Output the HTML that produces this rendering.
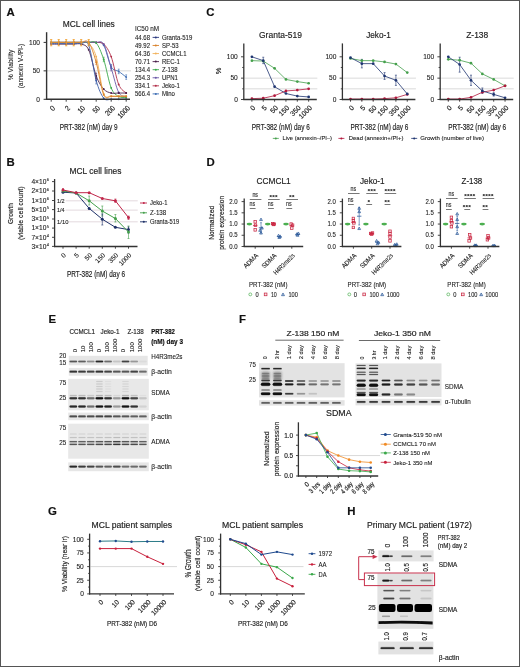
<!DOCTYPE html>
<html><head><meta charset="utf-8"><style>
html,body{margin:0;padding:0;background:#fff;}
svg{display:block;will-change:transform;}
text{font-family:"Liberation Sans", sans-serif;fill:#222;stroke:#222;stroke-width:0.16px;} text.sm{stroke-width:0.1px;}
</style></head><body>
<svg width="520" height="667" viewBox="0 0 520 667">
<defs><filter id="bl" x="-20%" y="-100%" width="140%" height="300%"><feGaussianBlur stdDeviation="0.45"/></filter><filter id="bl2" x="-30%" y="-30%" width="160%" height="160%"><feGaussianBlur stdDeviation="0.9"/></filter></defs>
<rect x="0" y="0" width="520" height="667" fill="#fff"/>
<text x="6.40" y="16.00" font-size="11.4" font-weight="bold" style="fill:#111;stroke:#111">A</text>
<text x="206.20" y="16.10" font-size="11.4" font-weight="bold" style="fill:#111;stroke:#111">C</text>
<text x="6.50" y="166.30" font-size="11.4" font-weight="bold" style="fill:#111;stroke:#111">B</text>
<text x="206.60" y="166.10" font-size="11.4" font-weight="bold" style="fill:#111;stroke:#111">D</text>
<text x="48.40" y="322.50" font-size="11.4" font-weight="bold" style="fill:#111;stroke:#111">E</text>
<text x="239.00" y="322.80" font-size="11.4" font-weight="bold" style="fill:#111;stroke:#111">F</text>
<text x="47.90" y="514.70" font-size="11.4" font-weight="bold" style="fill:#111;stroke:#111">G</text>
<text x="347.20" y="515.00" font-size="11.4" font-weight="bold" style="fill:#111;stroke:#111">H</text>
<text x="88.80" y="26.80" font-size="8.6" text-anchor="middle" textLength="52.00" lengthAdjust="spacingAndGlyphs">MCL cell lines</text>
<line x1="46.60" y1="70.85" x2="131.00" y2="70.85" stroke="#c8c8c8" stroke-width="0.7"/>
<path d="M51.20,42.40 C52.45,42.40 56.20,42.40 58.70,42.40 C61.20,42.40 63.70,42.40 66.20,42.40 C68.70,42.40 71.20,42.40 73.70,42.40 C76.20,42.40 78.70,42.40 81.20,42.40 C83.70,42.40 86.20,42.40 88.70,42.40 C91.20,42.40 93.70,41.93 96.20,42.40 C98.70,42.87 101.20,41.17 103.70,45.25 C106.20,49.32 108.70,62.50 111.20,66.87 C113.70,71.23 116.20,69.71 118.70,71.42 C121.20,73.13 124.95,76.16 126.20,77.11" fill="none" stroke="#3f6fb5" stroke-width="0.9"/>
<circle cx="51.20" cy="42.40" r="0.95" fill="#3f6fb5"/>
<circle cx="58.70" cy="42.40" r="0.95" fill="#3f6fb5"/>
<circle cx="66.20" cy="42.40" r="0.95" fill="#3f6fb5"/>
<circle cx="73.70" cy="42.40" r="0.95" fill="#3f6fb5"/>
<circle cx="81.20" cy="42.40" r="0.95" fill="#3f6fb5"/>
<circle cx="88.70" cy="42.40" r="0.95" fill="#3f6fb5"/>
<circle cx="96.20" cy="42.40" r="0.95" fill="#3f6fb5"/>
<circle cx="103.70" cy="45.25" r="0.95" fill="#3f6fb5"/>
<circle cx="111.20" cy="66.87" r="0.95" fill="#3f6fb5"/>
<circle cx="118.70" cy="71.42" r="0.95" fill="#3f6fb5"/>
<circle cx="126.20" cy="77.11" r="0.95" fill="#3f6fb5"/>
<path d="M51.20,42.40 C52.45,42.40 56.20,42.40 58.70,42.40 C61.20,42.40 63.70,42.40 66.20,42.40 C68.70,42.40 71.20,42.40 73.70,42.40 C76.20,42.40 78.70,42.40 81.20,42.40 C83.70,42.40 86.20,42.40 88.70,42.40 C91.20,42.40 93.70,42.12 96.20,42.40 C98.70,42.68 101.20,41.74 103.70,44.11 C106.20,46.48 108.70,49.89 111.20,56.62 C113.70,63.36 116.20,78.44 118.70,84.51 C121.20,90.58 124.95,91.62 126.20,93.04" fill="none" stroke="#b2304a" stroke-width="0.9"/>
<circle cx="51.20" cy="42.40" r="0.95" fill="#b2304a"/>
<circle cx="58.70" cy="42.40" r="0.95" fill="#b2304a"/>
<circle cx="66.20" cy="42.40" r="0.95" fill="#b2304a"/>
<circle cx="73.70" cy="42.40" r="0.95" fill="#b2304a"/>
<circle cx="81.20" cy="42.40" r="0.95" fill="#b2304a"/>
<circle cx="88.70" cy="42.40" r="0.95" fill="#b2304a"/>
<circle cx="96.20" cy="42.40" r="0.95" fill="#b2304a"/>
<circle cx="103.70" cy="44.11" r="0.95" fill="#b2304a"/>
<circle cx="111.20" cy="56.62" r="0.95" fill="#b2304a"/>
<circle cx="118.70" cy="84.51" r="0.95" fill="#b2304a"/>
<circle cx="126.20" cy="93.04" r="0.95" fill="#b2304a"/>
<path d="M51.20,42.40 C52.45,42.40 56.20,42.40 58.70,42.40 C61.20,42.40 63.70,42.40 66.20,42.40 C68.70,42.40 71.20,42.40 73.70,42.40 C76.20,42.40 78.70,42.40 81.20,42.40 C83.70,42.40 86.20,42.40 88.70,42.40 C91.20,42.40 93.70,42.12 96.20,42.40 C98.70,42.68 101.20,39.84 103.70,44.11 C106.20,48.37 108.70,59.94 111.20,68.00 C113.70,76.07 116.20,87.73 118.70,92.47 C121.20,97.21 124.95,95.79 126.20,96.45" fill="none" stroke="#6b5aa8" stroke-width="0.9"/>
<circle cx="51.20" cy="42.40" r="0.95" fill="#6b5aa8"/>
<circle cx="58.70" cy="42.40" r="0.95" fill="#6b5aa8"/>
<circle cx="66.20" cy="42.40" r="0.95" fill="#6b5aa8"/>
<circle cx="73.70" cy="42.40" r="0.95" fill="#6b5aa8"/>
<circle cx="81.20" cy="42.40" r="0.95" fill="#6b5aa8"/>
<circle cx="88.70" cy="42.40" r="0.95" fill="#6b5aa8"/>
<circle cx="96.20" cy="42.40" r="0.95" fill="#6b5aa8"/>
<circle cx="103.70" cy="44.11" r="0.95" fill="#6b5aa8"/>
<circle cx="111.20" cy="68.00" r="0.95" fill="#6b5aa8"/>
<circle cx="118.70" cy="92.47" r="0.95" fill="#6b5aa8"/>
<circle cx="126.20" cy="96.45" r="0.95" fill="#6b5aa8"/>
<path d="M51.20,42.40 C52.45,42.40 56.20,42.40 58.70,42.40 C61.20,42.40 63.70,42.40 66.20,42.40 C68.70,42.40 71.20,42.40 73.70,42.40 C76.20,42.40 78.70,42.40 81.20,42.40 C83.70,42.40 86.20,42.31 88.70,42.40 C91.20,42.49 93.70,40.12 96.20,42.97 C98.70,45.81 101.20,51.98 103.70,59.47 C106.20,66.96 108.70,81.76 111.20,87.92 C113.70,94.08 116.20,94.84 118.70,96.45 C121.20,98.07 124.95,97.40 126.20,97.59" fill="none" stroke="#3aa84a" stroke-width="0.9"/>
<circle cx="51.20" cy="42.40" r="0.95" fill="#3aa84a"/>
<circle cx="58.70" cy="42.40" r="0.95" fill="#3aa84a"/>
<circle cx="66.20" cy="42.40" r="0.95" fill="#3aa84a"/>
<circle cx="73.70" cy="42.40" r="0.95" fill="#3aa84a"/>
<circle cx="81.20" cy="42.40" r="0.95" fill="#3aa84a"/>
<circle cx="88.70" cy="42.40" r="0.95" fill="#3aa84a"/>
<circle cx="96.20" cy="42.97" r="0.95" fill="#3aa84a"/>
<circle cx="103.70" cy="59.47" r="0.95" fill="#3aa84a"/>
<circle cx="111.20" cy="87.92" r="0.95" fill="#3aa84a"/>
<circle cx="118.70" cy="96.45" r="0.95" fill="#3aa84a"/>
<circle cx="126.20" cy="97.59" r="0.95" fill="#3aa84a"/>
<path d="M51.20,44.11 C52.45,44.11 56.20,44.11 58.70,44.11 C61.20,44.11 63.70,44.11 66.20,44.11 C68.70,44.11 71.20,44.11 73.70,44.11 C76.20,44.11 78.70,43.16 81.20,44.11 C83.70,45.06 86.20,44.49 88.70,49.80 C91.20,55.11 93.70,69.43 96.20,75.97 C98.70,82.51 101.20,86.21 103.70,89.06 C106.20,91.90 108.70,92.38 111.20,93.04 C113.70,93.70 116.20,93.04 118.70,93.04 C121.20,93.04 124.95,93.04 126.20,93.04" fill="none" stroke="#4a1f4a" stroke-width="0.9"/>
<circle cx="51.20" cy="44.11" r="0.95" fill="#4a1f4a"/>
<circle cx="58.70" cy="44.11" r="0.95" fill="#4a1f4a"/>
<circle cx="66.20" cy="44.11" r="0.95" fill="#4a1f4a"/>
<circle cx="73.70" cy="44.11" r="0.95" fill="#4a1f4a"/>
<circle cx="81.20" cy="44.11" r="0.95" fill="#4a1f4a"/>
<circle cx="88.70" cy="49.80" r="0.95" fill="#4a1f4a"/>
<circle cx="96.20" cy="75.97" r="0.95" fill="#4a1f4a"/>
<circle cx="103.70" cy="89.06" r="0.95" fill="#4a1f4a"/>
<circle cx="111.20" cy="93.04" r="0.95" fill="#4a1f4a"/>
<circle cx="118.70" cy="93.04" r="0.95" fill="#4a1f4a"/>
<circle cx="126.20" cy="93.04" r="0.95" fill="#4a1f4a"/>
<path d="M51.20,42.40 C52.45,42.40 56.20,42.40 58.70,42.40 C61.20,42.40 63.70,42.40 66.20,42.40 C68.70,42.40 71.20,42.40 73.70,42.40 C76.20,42.40 78.70,42.21 81.20,42.40 C83.70,42.59 86.20,41.17 88.70,43.54 C91.20,45.91 93.70,48.28 96.20,56.62 C98.70,64.97 101.20,87.07 103.70,93.61 C106.20,100.15 108.70,95.51 111.20,95.89 C113.70,96.27 116.20,95.89 118.70,95.89 C121.20,95.89 124.95,95.89 126.20,95.89" fill="none" stroke="#f2b25c" stroke-width="0.9"/>
<circle cx="51.20" cy="42.40" r="0.95" fill="#f2b25c"/>
<circle cx="58.70" cy="42.40" r="0.95" fill="#f2b25c"/>
<circle cx="66.20" cy="42.40" r="0.95" fill="#f2b25c"/>
<circle cx="73.70" cy="42.40" r="0.95" fill="#f2b25c"/>
<circle cx="81.20" cy="42.40" r="0.95" fill="#f2b25c"/>
<circle cx="88.70" cy="43.54" r="0.95" fill="#f2b25c"/>
<circle cx="96.20" cy="56.62" r="0.95" fill="#f2b25c"/>
<circle cx="103.70" cy="93.61" r="0.95" fill="#f2b25c"/>
<circle cx="111.20" cy="95.89" r="0.95" fill="#f2b25c"/>
<circle cx="118.70" cy="95.89" r="0.95" fill="#f2b25c"/>
<circle cx="126.20" cy="95.89" r="0.95" fill="#f2b25c"/>
<path d="M51.20,42.40 C52.45,42.40 56.20,42.40 58.70,42.40 C61.20,42.40 63.70,42.40 66.20,42.40 C68.70,42.40 71.20,42.40 73.70,42.40 C76.20,42.40 78.70,42.40 81.20,42.40 C83.70,42.40 86.20,39.08 88.70,42.40 C91.20,45.72 93.70,53.59 96.20,62.31 C98.70,71.04 101.20,89.06 103.70,94.75 C106.20,100.44 108.70,96.17 111.20,96.45 C113.70,96.74 116.20,96.45 118.70,96.45 C121.20,96.45 124.95,96.45 126.20,96.45" fill="none" stroke="#d9822b" stroke-width="0.9"/>
<circle cx="51.20" cy="42.40" r="0.95" fill="#d9822b"/>
<circle cx="58.70" cy="42.40" r="0.95" fill="#d9822b"/>
<circle cx="66.20" cy="42.40" r="0.95" fill="#d9822b"/>
<circle cx="73.70" cy="42.40" r="0.95" fill="#d9822b"/>
<circle cx="81.20" cy="42.40" r="0.95" fill="#d9822b"/>
<circle cx="88.70" cy="42.40" r="0.95" fill="#d9822b"/>
<circle cx="96.20" cy="62.31" r="0.95" fill="#d9822b"/>
<circle cx="103.70" cy="94.75" r="0.95" fill="#d9822b"/>
<circle cx="111.20" cy="96.45" r="0.95" fill="#d9822b"/>
<circle cx="118.70" cy="96.45" r="0.95" fill="#d9822b"/>
<circle cx="126.20" cy="96.45" r="0.95" fill="#d9822b"/>
<path d="M51.20,43.54 C52.45,43.54 56.20,43.54 58.70,43.54 C61.20,43.54 63.70,43.54 66.20,43.54 C68.70,43.54 71.20,43.54 73.70,43.54 C76.20,43.54 78.70,43.25 81.20,43.54 C83.70,43.82 86.20,39.08 88.70,45.25 C91.20,51.41 93.70,71.70 96.20,80.52 C98.70,89.34 101.20,95.03 103.70,98.16 C106.20,101.29 108.70,99.11 111.20,99.30 C113.70,99.49 116.20,99.30 118.70,99.30 C121.20,99.30 124.95,99.30 126.20,99.30" fill="none" stroke="#3d5fa8" stroke-width="0.9"/>
<circle cx="51.20" cy="43.54" r="0.95" fill="#3d5fa8"/>
<circle cx="58.70" cy="43.54" r="0.95" fill="#3d5fa8"/>
<circle cx="66.20" cy="43.54" r="0.95" fill="#3d5fa8"/>
<circle cx="73.70" cy="43.54" r="0.95" fill="#3d5fa8"/>
<circle cx="81.20" cy="43.54" r="0.95" fill="#3d5fa8"/>
<circle cx="88.70" cy="45.25" r="0.95" fill="#3d5fa8"/>
<circle cx="96.20" cy="80.52" r="0.95" fill="#3d5fa8"/>
<circle cx="103.70" cy="98.16" r="0.95" fill="#3d5fa8"/>
<circle cx="111.20" cy="99.30" r="0.95" fill="#3d5fa8"/>
<circle cx="118.70" cy="99.30" r="0.95" fill="#3d5fa8"/>
<circle cx="126.20" cy="99.30" r="0.95" fill="#3d5fa8"/>
<line x1="96.20" y1="77.11" x2="96.20" y2="83.94" stroke="#3d5fa8" stroke-width="0.6"/>
<line x1="95.30" y1="77.11" x2="97.10" y2="77.11" stroke="#3d5fa8" stroke-width="0.6"/>
<line x1="95.30" y1="83.94" x2="97.10" y2="83.94" stroke="#3d5fa8" stroke-width="0.6"/>
<line x1="96.20" y1="73.13" x2="96.20" y2="78.82" stroke="#4a1f4a" stroke-width="0.6"/>
<line x1="95.30" y1="73.13" x2="97.10" y2="73.13" stroke="#4a1f4a" stroke-width="0.6"/>
<line x1="95.30" y1="78.82" x2="97.10" y2="78.82" stroke="#4a1f4a" stroke-width="0.6"/>
<line x1="111.20" y1="64.59" x2="111.20" y2="69.14" stroke="#3f6fb5" stroke-width="0.6"/>
<line x1="110.30" y1="64.59" x2="112.10" y2="64.59" stroke="#3f6fb5" stroke-width="0.6"/>
<line x1="110.30" y1="69.14" x2="112.10" y2="69.14" stroke="#3f6fb5" stroke-width="0.6"/>
<line x1="118.70" y1="69.14" x2="118.70" y2="73.69" stroke="#3f6fb5" stroke-width="0.6"/>
<line x1="117.80" y1="69.14" x2="119.60" y2="69.14" stroke="#3f6fb5" stroke-width="0.6"/>
<line x1="117.80" y1="73.69" x2="119.60" y2="73.69" stroke="#3f6fb5" stroke-width="0.6"/>
<line x1="126.20" y1="74.83" x2="126.20" y2="79.38" stroke="#3f6fb5" stroke-width="0.6"/>
<line x1="125.30" y1="74.83" x2="127.10" y2="74.83" stroke="#3f6fb5" stroke-width="0.6"/>
<line x1="125.30" y1="79.38" x2="127.10" y2="79.38" stroke="#3f6fb5" stroke-width="0.6"/>
<line x1="103.70" y1="57.19" x2="103.70" y2="61.75" stroke="#3aa84a" stroke-width="0.6"/>
<line x1="102.80" y1="57.19" x2="104.60" y2="57.19" stroke="#3aa84a" stroke-width="0.6"/>
<line x1="102.80" y1="61.75" x2="104.60" y2="61.75" stroke="#3aa84a" stroke-width="0.6"/>
<line x1="111.20" y1="65.16" x2="111.20" y2="70.85" stroke="#6b5aa8" stroke-width="0.6"/>
<line x1="110.30" y1="65.16" x2="112.10" y2="65.16" stroke="#6b5aa8" stroke-width="0.6"/>
<line x1="110.30" y1="70.85" x2="112.10" y2="70.85" stroke="#6b5aa8" stroke-width="0.6"/>
<line x1="96.20" y1="60.04" x2="96.20" y2="64.59" stroke="#d9822b" stroke-width="0.6"/>
<line x1="95.30" y1="60.04" x2="97.10" y2="60.04" stroke="#d9822b" stroke-width="0.6"/>
<line x1="95.30" y1="64.59" x2="97.10" y2="64.59" stroke="#d9822b" stroke-width="0.6"/>
<line x1="51.20" y1="39.55" x2="51.20" y2="45.81" stroke="#f0a030" stroke-width="1.1"/>
<line x1="50.10" y1="39.55" x2="52.30" y2="39.55" stroke="#f0a030" stroke-width="0.8"/>
<line x1="50.10" y1="45.81" x2="52.30" y2="45.81" stroke="#f0a030" stroke-width="0.8"/>
<line x1="58.70" y1="39.55" x2="58.70" y2="45.81" stroke="#f0a030" stroke-width="1.1"/>
<line x1="57.60" y1="39.55" x2="59.80" y2="39.55" stroke="#f0a030" stroke-width="0.8"/>
<line x1="57.60" y1="45.81" x2="59.80" y2="45.81" stroke="#f0a030" stroke-width="0.8"/>
<line x1="66.20" y1="39.55" x2="66.20" y2="45.81" stroke="#f0a030" stroke-width="1.1"/>
<line x1="65.10" y1="39.55" x2="67.30" y2="39.55" stroke="#f0a030" stroke-width="0.8"/>
<line x1="65.10" y1="45.81" x2="67.30" y2="45.81" stroke="#f0a030" stroke-width="0.8"/>
<line x1="73.70" y1="39.55" x2="73.70" y2="45.81" stroke="#f0a030" stroke-width="1.1"/>
<line x1="72.60" y1="39.55" x2="74.80" y2="39.55" stroke="#f0a030" stroke-width="0.8"/>
<line x1="72.60" y1="45.81" x2="74.80" y2="45.81" stroke="#f0a030" stroke-width="0.8"/>
<line x1="81.20" y1="39.55" x2="81.20" y2="45.81" stroke="#f0a030" stroke-width="1.1"/>
<line x1="80.10" y1="39.55" x2="82.30" y2="39.55" stroke="#f0a030" stroke-width="0.8"/>
<line x1="80.10" y1="45.81" x2="82.30" y2="45.81" stroke="#f0a030" stroke-width="0.8"/>
<line x1="88.70" y1="39.55" x2="88.70" y2="45.81" stroke="#f0a030" stroke-width="1.1"/>
<line x1="87.60" y1="39.55" x2="89.80" y2="39.55" stroke="#f0a030" stroke-width="0.8"/>
<line x1="87.60" y1="45.81" x2="89.80" y2="45.81" stroke="#f0a030" stroke-width="0.8"/>
<line x1="46.60" y1="32.20" x2="46.60" y2="100.00" stroke="#333" stroke-width="1.4"/>
<line x1="45.90" y1="99.30" x2="130.00" y2="99.30" stroke="#333" stroke-width="1.4"/>
<line x1="43.60" y1="42.40" x2="46.60" y2="42.40" stroke="#333" stroke-width="1"/>
<text x="40.00" y="44.70" font-size="6.6" class="sm" text-anchor="end">100</text>
<line x1="43.60" y1="70.85" x2="46.60" y2="70.85" stroke="#333" stroke-width="1"/>
<text x="40.00" y="73.15" font-size="6.6" class="sm" text-anchor="end">50</text>
<line x1="43.60" y1="99.30" x2="46.60" y2="99.30" stroke="#333" stroke-width="1"/>
<text x="40.00" y="101.60" font-size="6.6" class="sm" text-anchor="end">0</text>
<line x1="51.20" y1="99.30" x2="51.20" y2="101.70" stroke="#333" stroke-width="0.9"/>
<line x1="66.20" y1="99.30" x2="66.20" y2="101.70" stroke="#333" stroke-width="0.9"/>
<line x1="81.20" y1="99.30" x2="81.20" y2="101.70" stroke="#333" stroke-width="0.9"/>
<line x1="96.20" y1="99.30" x2="96.20" y2="101.70" stroke="#333" stroke-width="0.9"/>
<line x1="111.20" y1="99.30" x2="111.20" y2="101.70" stroke="#333" stroke-width="0.9"/>
<line x1="126.20" y1="99.30" x2="126.20" y2="101.70" stroke="#333" stroke-width="0.9"/>
<text x="55.60" y="108.60" font-size="7.4" text-anchor="end" transform="rotate(-45 55.60 108.60)">0</text>
<text x="70.60" y="108.60" font-size="7.4" text-anchor="end" textLength="3.60" lengthAdjust="spacingAndGlyphs" transform="rotate(-45 70.60 108.60)">2</text>
<text x="85.60" y="108.60" font-size="7.4" text-anchor="end" textLength="7.20" lengthAdjust="spacingAndGlyphs" transform="rotate(-45 85.60 108.60)">10</text>
<text x="100.60" y="108.60" font-size="7.4" text-anchor="end" textLength="7.20" lengthAdjust="spacingAndGlyphs" transform="rotate(-45 100.60 108.60)">50</text>
<text x="115.60" y="108.60" font-size="7.4" text-anchor="end" textLength="10.80" lengthAdjust="spacingAndGlyphs" transform="rotate(-45 115.60 108.60)">200</text>
<text x="130.60" y="108.60" font-size="7.4" text-anchor="end" textLength="14.40" lengthAdjust="spacingAndGlyphs" transform="rotate(-45 130.60 108.60)">1000</text>
<text x="13.20" y="65.00" font-size="6.3" class="sm" text-anchor="middle" textLength="30.60" lengthAdjust="spacingAndGlyphs" transform="rotate(-90 13.20 65.00)">% Viability</text>
<text x="23.20" y="66.00" font-size="6.3" class="sm" text-anchor="middle" textLength="44.40" lengthAdjust="spacingAndGlyphs" transform="rotate(-90 23.20 66.00)">(annexin V-/PI-)</text>
<text x="88.70" y="129.70" font-size="8.4" text-anchor="middle" textLength="58.00" lengthAdjust="spacingAndGlyphs">PRT-382 (nM) day 9</text>
<text x="135.00" y="31.00" font-size="6.6" class="sm" textLength="24.00" lengthAdjust="spacingAndGlyphs">IC50 nM</text>
<text x="135.00" y="39.70" font-size="6.6" class="sm" textLength="15.00" lengthAdjust="spacingAndGlyphs">44.68</text>
<line x1="152.60" y1="37.40" x2="159.00" y2="37.40" stroke="#2b3a80" stroke-width="0.9"/>
<circle cx="155.80" cy="37.40" r="1.0" fill="#2b3a80"/>
<text x="161.90" y="39.70" font-size="6.6" class="sm" textLength="30.39" lengthAdjust="spacingAndGlyphs">Granta-519</text>
<text x="135.00" y="47.77" font-size="6.6" class="sm" textLength="15.00" lengthAdjust="spacingAndGlyphs">49.92</text>
<line x1="152.60" y1="45.47" x2="159.00" y2="45.47" stroke="#d9822b" stroke-width="0.9"/>
<circle cx="155.80" cy="45.47" r="1.0" fill="#d9822b"/>
<text x="161.90" y="47.77" font-size="6.6" class="sm" textLength="16.65" lengthAdjust="spacingAndGlyphs">SP-53</text>
<text x="135.00" y="55.84" font-size="6.6" class="sm" textLength="15.00" lengthAdjust="spacingAndGlyphs">64.36</text>
<line x1="152.60" y1="53.54" x2="159.00" y2="53.54" stroke="#f2b25c" stroke-width="0.9"/>
<circle cx="155.80" cy="53.54" r="1.0" fill="#f2b25c"/>
<text x="161.90" y="55.84" font-size="6.6" class="sm" textLength="24.66" lengthAdjust="spacingAndGlyphs">CCMCL1</text>
<text x="135.00" y="63.91" font-size="6.6" class="sm" textLength="15.00" lengthAdjust="spacingAndGlyphs">70.71</text>
<line x1="152.60" y1="61.61" x2="159.00" y2="61.61" stroke="#4a1f4a" stroke-width="0.9"/>
<circle cx="155.80" cy="61.61" r="1.0" fill="#4a1f4a"/>
<text x="161.90" y="63.91" font-size="6.6" class="sm" textLength="18.02" lengthAdjust="spacingAndGlyphs">REC-1</text>
<text x="135.00" y="71.98" font-size="6.6" class="sm" textLength="15.00" lengthAdjust="spacingAndGlyphs">134.4</text>
<line x1="152.60" y1="69.68" x2="159.00" y2="69.68" stroke="#3aa84a" stroke-width="0.9"/>
<circle cx="155.80" cy="69.68" r="1.0" fill="#3aa84a"/>
<text x="161.90" y="71.98" font-size="6.6" class="sm" textLength="15.65" lengthAdjust="spacingAndGlyphs">Z-138</text>
<text x="135.00" y="80.05" font-size="6.6" class="sm" textLength="15.00" lengthAdjust="spacingAndGlyphs">254.3</text>
<line x1="152.60" y1="77.75" x2="159.00" y2="77.75" stroke="#6b5aa8" stroke-width="0.9"/>
<circle cx="155.80" cy="77.75" r="1.0" fill="#6b5aa8"/>
<text x="161.90" y="80.05" font-size="6.6" class="sm" textLength="16.02" lengthAdjust="spacingAndGlyphs">UPN1</text>
<text x="135.00" y="88.12" font-size="6.6" class="sm" textLength="15.00" lengthAdjust="spacingAndGlyphs">334.1</text>
<line x1="152.60" y1="85.82" x2="159.00" y2="85.82" stroke="#b2304a" stroke-width="0.9"/>
<circle cx="155.80" cy="85.82" r="1.0" fill="#b2304a"/>
<text x="161.90" y="88.12" font-size="6.6" class="sm" textLength="18.02" lengthAdjust="spacingAndGlyphs">Jeko-1</text>
<text x="135.00" y="96.19" font-size="6.6" class="sm" textLength="15.00" lengthAdjust="spacingAndGlyphs">566.4</text>
<line x1="152.60" y1="93.89" x2="159.00" y2="93.89" stroke="#3f6fb5" stroke-width="0.9"/>
<circle cx="155.80" cy="93.89" r="1.0" fill="#3f6fb5"/>
<text x="161.90" y="96.19" font-size="6.6" class="sm" textLength="13.01" lengthAdjust="spacingAndGlyphs">Mino</text>
<text x="280.50" y="37.80" font-size="9.6" text-anchor="middle" textLength="43.00" lengthAdjust="spacingAndGlyphs">Granta-519</text>
<line x1="244.80" y1="78.15" x2="317.30" y2="78.15" stroke="#c8c8c8" stroke-width="0.7"/>
<line x1="244.80" y1="88.83" x2="317.30" y2="88.83" stroke="#c8c8c8" stroke-width="0.7"/>
<polyline points="251.90,60.64 263.25,61.07 274.60,68.33 285.95,79.43 297.30,81.57 308.65,83.27" fill="none" stroke="#45a04c" stroke-width="0.8" stroke-linejoin="round"/>
<polyline points="251.90,98.65 263.25,98.22 274.60,95.66 285.95,90.96 297.30,90.11 308.65,88.83" fill="none" stroke="#b3173c" stroke-width="0.8" stroke-linejoin="round"/>
<polyline points="251.90,56.80 263.25,60.64 274.60,86.69 285.95,93.52 297.30,96.08 308.65,96.94" fill="none" stroke="#1e3470" stroke-width="0.8" stroke-linejoin="round"/>
<line x1="263.25" y1="57.23" x2="263.25" y2="63.63" stroke="#1e3470" stroke-width="0.6"/>
<line x1="262.25" y1="57.23" x2="264.25" y2="57.23" stroke="#1e3470" stroke-width="0.6"/>
<line x1="262.25" y1="63.63" x2="264.25" y2="63.63" stroke="#1e3470" stroke-width="0.6"/>
<circle cx="251.90" cy="60.64" r="1.35" fill="#45a04c"/>
<circle cx="263.25" cy="61.07" r="1.35" fill="#45a04c"/>
<circle cx="274.60" cy="68.33" r="1.35" fill="#45a04c"/>
<circle cx="285.95" cy="79.43" r="1.35" fill="#45a04c"/>
<circle cx="297.30" cy="81.57" r="1.35" fill="#45a04c"/>
<circle cx="308.65" cy="83.27" r="1.35" fill="#45a04c"/>
<circle cx="251.90" cy="98.65" r="1.35" fill="#b3173c"/>
<circle cx="263.25" cy="98.22" r="1.35" fill="#b3173c"/>
<circle cx="274.60" cy="95.66" r="1.35" fill="#b3173c"/>
<circle cx="285.95" cy="90.96" r="1.35" fill="#b3173c"/>
<circle cx="297.30" cy="90.11" r="1.35" fill="#b3173c"/>
<circle cx="308.65" cy="88.83" r="1.35" fill="#b3173c"/>
<circle cx="251.90" cy="56.80" r="1.35" fill="#1e3470"/>
<circle cx="263.25" cy="60.64" r="1.35" fill="#1e3470"/>
<circle cx="274.60" cy="86.69" r="1.35" fill="#1e3470"/>
<circle cx="285.95" cy="93.52" r="1.35" fill="#1e3470"/>
<circle cx="297.30" cy="96.08" r="1.35" fill="#1e3470"/>
<circle cx="308.65" cy="96.94" r="1.35" fill="#1e3470"/>
<line x1="243.80" y1="43.40" x2="243.80" y2="100.10" stroke="#333" stroke-width="1.3"/>
<line x1="243.20" y1="99.50" x2="316.80" y2="99.50" stroke="#333" stroke-width="1.3"/>
<line x1="241.00" y1="56.80" x2="243.80" y2="56.80" stroke="#333" stroke-width="0.9"/>
<line x1="242.20" y1="67.47" x2="243.80" y2="67.47" stroke="#333" stroke-width="0.9"/>
<line x1="241.00" y1="78.15" x2="243.80" y2="78.15" stroke="#333" stroke-width="0.9"/>
<line x1="242.20" y1="88.83" x2="243.80" y2="88.83" stroke="#333" stroke-width="0.9"/>
<line x1="241.00" y1="99.50" x2="243.80" y2="99.50" stroke="#333" stroke-width="0.9"/>
<text x="237.80" y="59.10" font-size="6.6" class="sm" text-anchor="end">100</text>
<text x="237.80" y="80.45" font-size="6.6" class="sm" text-anchor="end">50</text>
<text x="237.80" y="101.80" font-size="6.6" class="sm" text-anchor="end">0</text>
<line x1="251.90" y1="99.50" x2="251.90" y2="101.70" stroke="#333" stroke-width="0.9"/>
<text x="255.80" y="108.30" font-size="7.0" text-anchor="end" transform="rotate(-45 255.80 108.30)">0</text>
<line x1="263.25" y1="99.50" x2="263.25" y2="101.70" stroke="#333" stroke-width="0.9"/>
<text x="267.15" y="108.30" font-size="7.0" text-anchor="end" transform="rotate(-45 267.15 108.30)">5</text>
<line x1="274.60" y1="99.50" x2="274.60" y2="101.70" stroke="#333" stroke-width="0.9"/>
<text x="278.50" y="108.30" font-size="7.0" text-anchor="end" transform="rotate(-45 278.50 108.30)">50</text>
<line x1="285.95" y1="99.50" x2="285.95" y2="101.70" stroke="#333" stroke-width="0.9"/>
<text x="289.85" y="108.30" font-size="7.0" text-anchor="end" transform="rotate(-45 289.85 108.30)">150</text>
<line x1="297.30" y1="99.50" x2="297.30" y2="101.70" stroke="#333" stroke-width="0.9"/>
<text x="301.20" y="108.30" font-size="7.0" text-anchor="end" transform="rotate(-45 301.20 108.30)">350</text>
<line x1="308.65" y1="99.50" x2="308.65" y2="101.70" stroke="#333" stroke-width="0.9"/>
<text x="312.55" y="108.30" font-size="7.0" text-anchor="end" transform="rotate(-45 312.55 108.30)">1000</text>
<text x="280.80" y="129.60" font-size="8.4" text-anchor="middle" textLength="58.00" lengthAdjust="spacingAndGlyphs">PRT-382 (nM) day 6</text>
<text x="378.50" y="37.80" font-size="9.6" text-anchor="middle" textLength="24.60" lengthAdjust="spacingAndGlyphs">Jeko-1</text>
<line x1="343.40" y1="78.15" x2="415.90" y2="78.15" stroke="#c8c8c8" stroke-width="0.7"/>
<line x1="343.40" y1="88.83" x2="415.90" y2="88.83" stroke="#c8c8c8" stroke-width="0.7"/>
<polyline points="350.50,58.51 361.85,60.64 373.20,60.64 384.55,61.92 395.90,64.06 407.25,72.60" fill="none" stroke="#45a04c" stroke-width="0.8" stroke-linejoin="round"/>
<polyline points="350.50,99.07 361.85,99.07 373.20,99.07 384.55,98.65 395.90,97.79 407.25,94.38" fill="none" stroke="#b3173c" stroke-width="0.8" stroke-linejoin="round"/>
<polyline points="350.50,57.65 361.85,63.63 373.20,63.63 384.55,76.02 395.90,80.28 407.25,93.95" fill="none" stroke="#1e3470" stroke-width="0.8" stroke-linejoin="round"/>
<line x1="361.85" y1="59.36" x2="361.85" y2="67.90" stroke="#1e3470" stroke-width="0.6"/>
<line x1="360.85" y1="59.36" x2="362.85" y2="59.36" stroke="#1e3470" stroke-width="0.6"/>
<line x1="360.85" y1="67.90" x2="362.85" y2="67.90" stroke="#1e3470" stroke-width="0.6"/>
<line x1="384.55" y1="72.60" x2="384.55" y2="79.43" stroke="#1e3470" stroke-width="0.6"/>
<line x1="383.55" y1="72.60" x2="385.55" y2="72.60" stroke="#1e3470" stroke-width="0.6"/>
<line x1="383.55" y1="79.43" x2="385.55" y2="79.43" stroke="#1e3470" stroke-width="0.6"/>
<line x1="395.90" y1="75.16" x2="395.90" y2="85.41" stroke="#1e3470" stroke-width="0.6"/>
<line x1="394.90" y1="75.16" x2="396.90" y2="75.16" stroke="#1e3470" stroke-width="0.6"/>
<line x1="394.90" y1="85.41" x2="396.90" y2="85.41" stroke="#1e3470" stroke-width="0.6"/>
<circle cx="350.50" cy="58.51" r="1.35" fill="#45a04c"/>
<circle cx="361.85" cy="60.64" r="1.35" fill="#45a04c"/>
<circle cx="373.20" cy="60.64" r="1.35" fill="#45a04c"/>
<circle cx="384.55" cy="61.92" r="1.35" fill="#45a04c"/>
<circle cx="395.90" cy="64.06" r="1.35" fill="#45a04c"/>
<circle cx="407.25" cy="72.60" r="1.35" fill="#45a04c"/>
<circle cx="350.50" cy="99.07" r="1.35" fill="#b3173c"/>
<circle cx="361.85" cy="99.07" r="1.35" fill="#b3173c"/>
<circle cx="373.20" cy="99.07" r="1.35" fill="#b3173c"/>
<circle cx="384.55" cy="98.65" r="1.35" fill="#b3173c"/>
<circle cx="395.90" cy="97.79" r="1.35" fill="#b3173c"/>
<circle cx="407.25" cy="94.38" r="1.35" fill="#b3173c"/>
<circle cx="350.50" cy="57.65" r="1.35" fill="#1e3470"/>
<circle cx="361.85" cy="63.63" r="1.35" fill="#1e3470"/>
<circle cx="373.20" cy="63.63" r="1.35" fill="#1e3470"/>
<circle cx="384.55" cy="76.02" r="1.35" fill="#1e3470"/>
<circle cx="395.90" cy="80.28" r="1.35" fill="#1e3470"/>
<circle cx="407.25" cy="93.95" r="1.35" fill="#1e3470"/>
<line x1="342.40" y1="43.40" x2="342.40" y2="100.10" stroke="#333" stroke-width="1.3"/>
<line x1="341.80" y1="99.50" x2="415.40" y2="99.50" stroke="#333" stroke-width="1.3"/>
<line x1="339.60" y1="56.80" x2="342.40" y2="56.80" stroke="#333" stroke-width="0.9"/>
<line x1="340.80" y1="67.47" x2="342.40" y2="67.47" stroke="#333" stroke-width="0.9"/>
<line x1="339.60" y1="78.15" x2="342.40" y2="78.15" stroke="#333" stroke-width="0.9"/>
<line x1="340.80" y1="88.83" x2="342.40" y2="88.83" stroke="#333" stroke-width="0.9"/>
<line x1="339.60" y1="99.50" x2="342.40" y2="99.50" stroke="#333" stroke-width="0.9"/>
<text x="336.40" y="59.10" font-size="6.6" class="sm" text-anchor="end">100</text>
<text x="336.40" y="80.45" font-size="6.6" class="sm" text-anchor="end">50</text>
<text x="336.40" y="101.80" font-size="6.6" class="sm" text-anchor="end">0</text>
<line x1="350.50" y1="99.50" x2="350.50" y2="101.70" stroke="#333" stroke-width="0.9"/>
<text x="354.40" y="108.30" font-size="7.0" text-anchor="end" transform="rotate(-45 354.40 108.30)">0</text>
<line x1="361.85" y1="99.50" x2="361.85" y2="101.70" stroke="#333" stroke-width="0.9"/>
<text x="365.75" y="108.30" font-size="7.0" text-anchor="end" transform="rotate(-45 365.75 108.30)">5</text>
<line x1="373.20" y1="99.50" x2="373.20" y2="101.70" stroke="#333" stroke-width="0.9"/>
<text x="377.10" y="108.30" font-size="7.0" text-anchor="end" transform="rotate(-45 377.10 108.30)">50</text>
<line x1="384.55" y1="99.50" x2="384.55" y2="101.70" stroke="#333" stroke-width="0.9"/>
<text x="388.45" y="108.30" font-size="7.0" text-anchor="end" transform="rotate(-45 388.45 108.30)">150</text>
<line x1="395.90" y1="99.50" x2="395.90" y2="101.70" stroke="#333" stroke-width="0.9"/>
<text x="399.80" y="108.30" font-size="7.0" text-anchor="end" transform="rotate(-45 399.80 108.30)">350</text>
<line x1="407.25" y1="99.50" x2="407.25" y2="101.70" stroke="#333" stroke-width="0.9"/>
<text x="411.15" y="108.30" font-size="7.0" text-anchor="end" transform="rotate(-45 411.15 108.30)">1000</text>
<text x="379.40" y="129.60" font-size="8.4" text-anchor="middle" textLength="58.00" lengthAdjust="spacingAndGlyphs">PRT-382 (nM) day 6</text>
<text x="477.20" y="37.80" font-size="9.6" text-anchor="middle" textLength="22.10" lengthAdjust="spacingAndGlyphs">Z-138</text>
<line x1="441.20" y1="78.15" x2="513.70" y2="78.15" stroke="#c8c8c8" stroke-width="0.7"/>
<line x1="441.20" y1="88.83" x2="513.70" y2="88.83" stroke="#c8c8c8" stroke-width="0.7"/>
<polyline points="448.30,59.36 459.65,60.22 471.00,63.20 482.35,73.88 493.70,79.43 505.05,85.84" fill="none" stroke="#45a04c" stroke-width="0.8" stroke-linejoin="round"/>
<polyline points="448.30,99.07 459.65,99.07 471.00,97.36 482.35,92.24 493.70,90.11 505.05,85.84" fill="none" stroke="#b3173c" stroke-width="0.8" stroke-linejoin="round"/>
<polyline points="448.30,56.80 459.65,64.49 471.00,80.28 482.35,90.96 493.70,94.38 505.05,97.79" fill="none" stroke="#1e3470" stroke-width="0.8" stroke-linejoin="round"/>
<line x1="459.65" y1="57.23" x2="459.65" y2="72.17" stroke="#1e3470" stroke-width="0.6"/>
<line x1="458.65" y1="57.23" x2="460.65" y2="57.23" stroke="#1e3470" stroke-width="0.6"/>
<line x1="458.65" y1="72.17" x2="460.65" y2="72.17" stroke="#1e3470" stroke-width="0.6"/>
<line x1="471.00" y1="75.16" x2="471.00" y2="85.41" stroke="#1e3470" stroke-width="0.6"/>
<line x1="470.00" y1="75.16" x2="472.00" y2="75.16" stroke="#1e3470" stroke-width="0.6"/>
<line x1="470.00" y1="85.41" x2="472.00" y2="85.41" stroke="#1e3470" stroke-width="0.6"/>
<line x1="482.35" y1="87.97" x2="482.35" y2="93.52" stroke="#1e3470" stroke-width="0.6"/>
<line x1="481.35" y1="87.97" x2="483.35" y2="87.97" stroke="#1e3470" stroke-width="0.6"/>
<line x1="481.35" y1="93.52" x2="483.35" y2="93.52" stroke="#1e3470" stroke-width="0.6"/>
<line x1="493.70" y1="92.67" x2="493.70" y2="96.08" stroke="#1e3470" stroke-width="0.6"/>
<line x1="492.70" y1="92.67" x2="494.70" y2="92.67" stroke="#1e3470" stroke-width="0.6"/>
<line x1="492.70" y1="96.08" x2="494.70" y2="96.08" stroke="#1e3470" stroke-width="0.6"/>
<circle cx="448.30" cy="59.36" r="1.35" fill="#45a04c"/>
<circle cx="459.65" cy="60.22" r="1.35" fill="#45a04c"/>
<circle cx="471.00" cy="63.20" r="1.35" fill="#45a04c"/>
<circle cx="482.35" cy="73.88" r="1.35" fill="#45a04c"/>
<circle cx="493.70" cy="79.43" r="1.35" fill="#45a04c"/>
<circle cx="505.05" cy="85.84" r="1.35" fill="#45a04c"/>
<circle cx="448.30" cy="99.07" r="1.35" fill="#b3173c"/>
<circle cx="459.65" cy="99.07" r="1.35" fill="#b3173c"/>
<circle cx="471.00" cy="97.36" r="1.35" fill="#b3173c"/>
<circle cx="482.35" cy="92.24" r="1.35" fill="#b3173c"/>
<circle cx="493.70" cy="90.11" r="1.35" fill="#b3173c"/>
<circle cx="505.05" cy="85.84" r="1.35" fill="#b3173c"/>
<circle cx="448.30" cy="56.80" r="1.35" fill="#1e3470"/>
<circle cx="459.65" cy="64.49" r="1.35" fill="#1e3470"/>
<circle cx="471.00" cy="80.28" r="1.35" fill="#1e3470"/>
<circle cx="482.35" cy="90.96" r="1.35" fill="#1e3470"/>
<circle cx="493.70" cy="94.38" r="1.35" fill="#1e3470"/>
<circle cx="505.05" cy="97.79" r="1.35" fill="#1e3470"/>
<line x1="440.20" y1="43.40" x2="440.20" y2="100.10" stroke="#333" stroke-width="1.3"/>
<line x1="439.60" y1="99.50" x2="513.20" y2="99.50" stroke="#333" stroke-width="1.3"/>
<line x1="437.40" y1="56.80" x2="440.20" y2="56.80" stroke="#333" stroke-width="0.9"/>
<line x1="438.60" y1="67.47" x2="440.20" y2="67.47" stroke="#333" stroke-width="0.9"/>
<line x1="437.40" y1="78.15" x2="440.20" y2="78.15" stroke="#333" stroke-width="0.9"/>
<line x1="438.60" y1="88.83" x2="440.20" y2="88.83" stroke="#333" stroke-width="0.9"/>
<line x1="437.40" y1="99.50" x2="440.20" y2="99.50" stroke="#333" stroke-width="0.9"/>
<text x="434.20" y="59.10" font-size="6.6" class="sm" text-anchor="end">100</text>
<text x="434.20" y="80.45" font-size="6.6" class="sm" text-anchor="end">50</text>
<text x="434.20" y="101.80" font-size="6.6" class="sm" text-anchor="end">0</text>
<line x1="448.30" y1="99.50" x2="448.30" y2="101.70" stroke="#333" stroke-width="0.9"/>
<text x="452.20" y="108.30" font-size="7.0" text-anchor="end" transform="rotate(-45 452.20 108.30)">0</text>
<line x1="459.65" y1="99.50" x2="459.65" y2="101.70" stroke="#333" stroke-width="0.9"/>
<text x="463.55" y="108.30" font-size="7.0" text-anchor="end" transform="rotate(-45 463.55 108.30)">5</text>
<line x1="471.00" y1="99.50" x2="471.00" y2="101.70" stroke="#333" stroke-width="0.9"/>
<text x="474.90" y="108.30" font-size="7.0" text-anchor="end" transform="rotate(-45 474.90 108.30)">50</text>
<line x1="482.35" y1="99.50" x2="482.35" y2="101.70" stroke="#333" stroke-width="0.9"/>
<text x="486.25" y="108.30" font-size="7.0" text-anchor="end" transform="rotate(-45 486.25 108.30)">150</text>
<line x1="493.70" y1="99.50" x2="493.70" y2="101.70" stroke="#333" stroke-width="0.9"/>
<text x="497.60" y="108.30" font-size="7.0" text-anchor="end" transform="rotate(-45 497.60 108.30)">350</text>
<line x1="505.05" y1="99.50" x2="505.05" y2="101.70" stroke="#333" stroke-width="0.9"/>
<text x="508.95" y="108.30" font-size="7.0" text-anchor="end" transform="rotate(-45 508.95 108.30)">1000</text>
<text x="477.20" y="129.60" font-size="8.4" text-anchor="middle" textLength="58.00" lengthAdjust="spacingAndGlyphs">PRT-382 (nM) day 6</text>
<text x="221.00" y="71.00" font-size="7.4" text-anchor="middle" transform="rotate(-90 221.00 71.00)">%</text>
<line x1="272.80" y1="138.40" x2="278.80" y2="138.40" stroke="#45a04c" stroke-width="0.8"/>
<circle cx="275.80" cy="138.40" r="1.0" fill="#45a04c"/>
<text x="282.50" y="140.40" font-size="5.8" class="sm" textLength="49.50" lengthAdjust="spacingAndGlyphs">Live (annexin–/PI–)</text>
<line x1="338.40" y1="138.40" x2="344.40" y2="138.40" stroke="#b3173c" stroke-width="0.8"/>
<circle cx="341.40" cy="138.40" r="1.0" fill="#b3173c"/>
<text x="348.80" y="140.40" font-size="5.8" class="sm" textLength="54.60" lengthAdjust="spacingAndGlyphs">Dead (annexin+/PI+)</text>
<line x1="411.20" y1="138.40" x2="417.20" y2="138.40" stroke="#1e3470" stroke-width="0.8"/>
<circle cx="414.20" cy="138.40" r="1.0" fill="#1e3470"/>
<text x="420.20" y="140.40" font-size="5.8" class="sm" textLength="63.80" lengthAdjust="spacingAndGlyphs">Growth (number of live)</text>
<text x="95.50" y="173.80" font-size="8.4" text-anchor="middle" textLength="51.90" lengthAdjust="spacingAndGlyphs">MCL cell lines</text>
<line x1="52.00" y1="181.60" x2="54.60" y2="181.60" stroke="#333" stroke-width="0.9"/>
<text x="31.40" y="183.80" font-size="6.3" class="sm" textLength="15.00" lengthAdjust="spacingAndGlyphs">4×10</text>
<text x="46.80" y="181.20" font-size="4.0" class="sm" textLength="2.20" lengthAdjust="spacingAndGlyphs">6</text>
<line x1="52.00" y1="191.00" x2="54.60" y2="191.00" stroke="#333" stroke-width="0.9"/>
<text x="31.40" y="193.20" font-size="6.3" class="sm" textLength="15.00" lengthAdjust="spacingAndGlyphs">2×10</text>
<text x="46.80" y="190.60" font-size="4.0" class="sm" textLength="2.20" lengthAdjust="spacingAndGlyphs">6</text>
<line x1="52.00" y1="200.50" x2="54.60" y2="200.50" stroke="#333" stroke-width="0.9"/>
<text x="31.40" y="202.70" font-size="6.3" class="sm" textLength="15.00" lengthAdjust="spacingAndGlyphs">1×10</text>
<text x="46.80" y="200.10" font-size="4.0" class="sm" textLength="2.20" lengthAdjust="spacingAndGlyphs">6</text>
<line x1="52.00" y1="209.60" x2="54.60" y2="209.60" stroke="#333" stroke-width="0.9"/>
<text x="31.40" y="211.80" font-size="6.3" class="sm" textLength="15.00" lengthAdjust="spacingAndGlyphs">5×10</text>
<text x="46.80" y="209.20" font-size="4.0" class="sm" textLength="2.20" lengthAdjust="spacingAndGlyphs">5</text>
<line x1="52.00" y1="219.00" x2="54.60" y2="219.00" stroke="#333" stroke-width="0.9"/>
<text x="31.40" y="221.20" font-size="6.3" class="sm" textLength="15.00" lengthAdjust="spacingAndGlyphs">3×10</text>
<text x="46.80" y="218.60" font-size="4.0" class="sm" textLength="2.20" lengthAdjust="spacingAndGlyphs">5</text>
<line x1="52.00" y1="228.10" x2="54.60" y2="228.10" stroke="#333" stroke-width="0.9"/>
<text x="31.40" y="230.30" font-size="6.3" class="sm" textLength="15.00" lengthAdjust="spacingAndGlyphs">1×10</text>
<text x="46.80" y="227.70" font-size="4.0" class="sm" textLength="2.20" lengthAdjust="spacingAndGlyphs">5</text>
<line x1="52.00" y1="237.30" x2="54.60" y2="237.30" stroke="#333" stroke-width="0.9"/>
<text x="31.40" y="239.50" font-size="6.3" class="sm" textLength="15.00" lengthAdjust="spacingAndGlyphs">7×10</text>
<text x="46.80" y="236.90" font-size="4.0" class="sm" textLength="2.20" lengthAdjust="spacingAndGlyphs">4</text>
<line x1="52.00" y1="246.40" x2="54.60" y2="246.40" stroke="#333" stroke-width="0.9"/>
<text x="31.40" y="248.60" font-size="6.3" class="sm" textLength="15.00" lengthAdjust="spacingAndGlyphs">3×10</text>
<text x="46.80" y="246.00" font-size="4.0" class="sm" textLength="2.20" lengthAdjust="spacingAndGlyphs">4</text>
<line x1="65.60" y1="200.80" x2="137.70" y2="200.80" stroke="#dccfd6" stroke-width="0.8"/>
<line x1="65.60" y1="210.10" x2="137.70" y2="210.10" stroke="#dccfd6" stroke-width="0.8"/>
<line x1="68.60" y1="221.80" x2="137.70" y2="221.80" stroke="#dccfd6" stroke-width="0.8"/>
<text x="57.00" y="202.90" font-size="6.2" class="sm" textLength="7.70" lengthAdjust="spacingAndGlyphs">1/2</text>
<text x="57.00" y="212.20" font-size="6.2" class="sm" textLength="7.70" lengthAdjust="spacingAndGlyphs">1/4</text>
<text x="57.00" y="224.40" font-size="6.2" class="sm" textLength="11.40" lengthAdjust="spacingAndGlyphs">1/10</text>
<line x1="89.20" y1="196.00" x2="89.20" y2="205.00" stroke="#45a04c" stroke-width="0.6"/>
<line x1="88.20" y1="196.00" x2="90.20" y2="196.00" stroke="#45a04c" stroke-width="0.6"/>
<line x1="88.20" y1="205.00" x2="90.20" y2="205.00" stroke="#45a04c" stroke-width="0.6"/>
<line x1="102.30" y1="206.00" x2="102.30" y2="216.00" stroke="#45a04c" stroke-width="0.6"/>
<line x1="101.30" y1="206.00" x2="103.30" y2="206.00" stroke="#45a04c" stroke-width="0.6"/>
<line x1="101.30" y1="216.00" x2="103.30" y2="216.00" stroke="#45a04c" stroke-width="0.6"/>
<line x1="115.40" y1="214.50" x2="115.40" y2="222.00" stroke="#45a04c" stroke-width="0.6"/>
<line x1="114.40" y1="214.50" x2="116.40" y2="214.50" stroke="#45a04c" stroke-width="0.6"/>
<line x1="114.40" y1="222.00" x2="116.40" y2="222.00" stroke="#45a04c" stroke-width="0.6"/>
<line x1="128.50" y1="226.00" x2="128.50" y2="238.50" stroke="#45a04c" stroke-width="0.6"/>
<line x1="127.50" y1="226.00" x2="129.50" y2="226.00" stroke="#45a04c" stroke-width="0.6"/>
<line x1="127.50" y1="238.50" x2="129.50" y2="238.50" stroke="#45a04c" stroke-width="0.6"/>
<line x1="102.30" y1="214.00" x2="102.30" y2="225.00" stroke="#1e3068" stroke-width="0.6"/>
<line x1="101.30" y1="214.00" x2="103.30" y2="214.00" stroke="#1e3068" stroke-width="0.6"/>
<line x1="101.30" y1="225.00" x2="103.30" y2="225.00" stroke="#1e3068" stroke-width="0.6"/>
<line x1="128.50" y1="227.00" x2="128.50" y2="233.00" stroke="#1e3068" stroke-width="0.6"/>
<line x1="127.50" y1="227.00" x2="129.50" y2="227.00" stroke="#1e3068" stroke-width="0.6"/>
<line x1="127.50" y1="233.00" x2="129.50" y2="233.00" stroke="#1e3068" stroke-width="0.6"/>
<line x1="63.00" y1="188.50" x2="63.00" y2="191.50" stroke="#c0264a" stroke-width="0.6"/>
<line x1="62.00" y1="188.50" x2="64.00" y2="188.50" stroke="#c0264a" stroke-width="0.6"/>
<line x1="62.00" y1="191.50" x2="64.00" y2="191.50" stroke="#c0264a" stroke-width="0.6"/>
<line x1="115.40" y1="199.00" x2="115.40" y2="202.50" stroke="#c0264a" stroke-width="0.6"/>
<line x1="114.40" y1="199.00" x2="116.40" y2="199.00" stroke="#c0264a" stroke-width="0.6"/>
<line x1="114.40" y1="202.50" x2="116.40" y2="202.50" stroke="#c0264a" stroke-width="0.6"/>
<line x1="128.50" y1="216.00" x2="128.50" y2="219.50" stroke="#c0264a" stroke-width="0.6"/>
<line x1="127.50" y1="216.00" x2="129.50" y2="216.00" stroke="#c0264a" stroke-width="0.6"/>
<line x1="127.50" y1="219.50" x2="129.50" y2="219.50" stroke="#c0264a" stroke-width="0.6"/>
<polyline points="63.00,192.20 76.10,193.00 89.20,208.40 102.30,219.20 115.40,227.30 128.50,229.60" fill="none" stroke="#1e3068" stroke-width="1.0" stroke-linejoin="round"/>
<circle cx="63.00" cy="192.20" r="1.5" fill="#1e3068"/>
<circle cx="76.10" cy="193.00" r="1.5" fill="#1e3068"/>
<circle cx="89.20" cy="208.40" r="1.5" fill="#1e3068"/>
<circle cx="102.30" cy="219.20" r="1.5" fill="#1e3068"/>
<circle cx="115.40" cy="227.30" r="1.5" fill="#1e3068"/>
<circle cx="128.50" cy="229.60" r="1.5" fill="#1e3068"/>
<polyline points="63.00,191.00 76.10,193.00 89.20,200.80 102.30,211.00 115.40,218.50 128.50,232.00" fill="none" stroke="#45a04c" stroke-width="1.0" stroke-linejoin="round"/>
<circle cx="63.00" cy="191.00" r="1.5" fill="#45a04c"/>
<circle cx="76.10" cy="193.00" r="1.5" fill="#45a04c"/>
<circle cx="89.20" cy="200.80" r="1.5" fill="#45a04c"/>
<circle cx="102.30" cy="211.00" r="1.5" fill="#45a04c"/>
<circle cx="115.40" cy="218.50" r="1.5" fill="#45a04c"/>
<circle cx="128.50" cy="232.00" r="1.5" fill="#45a04c"/>
<polyline points="63.00,190.00 76.10,192.70 89.20,192.70 102.30,198.50 115.40,200.80 128.50,217.60" fill="none" stroke="#c0264a" stroke-width="1.0" stroke-linejoin="round"/>
<circle cx="63.00" cy="190.00" r="1.5" fill="#c0264a"/>
<circle cx="76.10" cy="192.70" r="1.5" fill="#c0264a"/>
<circle cx="89.20" cy="192.70" r="1.5" fill="#c0264a"/>
<circle cx="102.30" cy="198.50" r="1.5" fill="#c0264a"/>
<circle cx="115.40" cy="200.80" r="1.5" fill="#c0264a"/>
<circle cx="128.50" cy="217.60" r="1.5" fill="#c0264a"/>
<line x1="54.60" y1="179.00" x2="54.60" y2="247.10" stroke="#333" stroke-width="1.3"/>
<line x1="54.00" y1="246.50" x2="137.50" y2="246.50" stroke="#333" stroke-width="1.3"/>
<line x1="63.00" y1="246.50" x2="63.00" y2="248.70" stroke="#333" stroke-width="0.9"/>
<text x="66.30" y="255.70" font-size="6.6" class="sm" text-anchor="end" transform="rotate(-45 66.30 255.70)">0</text>
<line x1="76.10" y1="246.50" x2="76.10" y2="248.70" stroke="#333" stroke-width="0.9"/>
<text x="79.40" y="255.70" font-size="6.6" class="sm" text-anchor="end" transform="rotate(-45 79.40 255.70)">5</text>
<line x1="89.20" y1="246.50" x2="89.20" y2="248.70" stroke="#333" stroke-width="0.9"/>
<text x="92.50" y="255.70" font-size="6.6" class="sm" text-anchor="end" transform="rotate(-45 92.50 255.70)">50</text>
<line x1="102.30" y1="246.50" x2="102.30" y2="248.70" stroke="#333" stroke-width="0.9"/>
<text x="105.60" y="255.70" font-size="6.6" class="sm" text-anchor="end" transform="rotate(-45 105.60 255.70)">150</text>
<line x1="115.40" y1="246.50" x2="115.40" y2="248.70" stroke="#333" stroke-width="0.9"/>
<text x="118.70" y="255.70" font-size="6.6" class="sm" text-anchor="end" transform="rotate(-45 118.70 255.70)">350</text>
<line x1="128.50" y1="246.50" x2="128.50" y2="248.70" stroke="#333" stroke-width="0.9"/>
<text x="131.80" y="255.70" font-size="6.6" class="sm" text-anchor="end" transform="rotate(-45 131.80 255.70)">1000</text>
<text x="13.40" y="213.50" font-size="7.4" text-anchor="middle" textLength="21.00" lengthAdjust="spacingAndGlyphs" transform="rotate(-90 13.40 213.50)">Growth</text>
<text x="23.20" y="213.30" font-size="7.4" text-anchor="middle" textLength="53.60" lengthAdjust="spacingAndGlyphs" transform="rotate(-90 23.20 213.30)">(viable cell count)</text>
<text x="96.00" y="277.00" font-size="8.4" text-anchor="middle" textLength="58.00" lengthAdjust="spacingAndGlyphs">PRT-382 (nM) day 6</text>
<line x1="140.00" y1="203.00" x2="147.00" y2="203.00" stroke="#c0264a" stroke-width="0.9"/>
<circle cx="143.80" cy="203.00" r="1.0" fill="#c0264a"/>
<text x="150.00" y="205.20" font-size="6.4" class="sm" textLength="17.50" lengthAdjust="spacingAndGlyphs">Jeko-1</text>
<line x1="140.00" y1="212.80" x2="147.00" y2="212.80" stroke="#45a04c" stroke-width="0.9"/>
<circle cx="143.80" cy="212.80" r="1.0" fill="#45a04c"/>
<text x="150.00" y="215.00" font-size="6.4" class="sm" textLength="16.30" lengthAdjust="spacingAndGlyphs">Z-138</text>
<line x1="140.00" y1="221.80" x2="147.00" y2="221.80" stroke="#1e3068" stroke-width="0.9"/>
<circle cx="143.80" cy="221.80" r="1.0" fill="#1e3068"/>
<text x="150.00" y="224.00" font-size="6.4" class="sm" textLength="29.20" lengthAdjust="spacingAndGlyphs">Granta-519</text>
<text x="273.60" y="184.30" font-size="8.6" text-anchor="middle" textLength="34.30" lengthAdjust="spacingAndGlyphs">CCMCL1</text>
<line x1="249.80" y1="199.50" x2="261.40" y2="199.50" stroke="#555" stroke-width="0.8"/>
<line x1="249.80" y1="208.50" x2="255.60" y2="208.50" stroke="#555" stroke-width="0.8"/>
<text x="255.20" y="197.00" font-size="7.0" text-anchor="middle" textLength="5.60" lengthAdjust="spacingAndGlyphs" style="fill:#333;stroke:#333">ns</text>
<text x="252.30" y="206.00" font-size="7.0" text-anchor="middle" textLength="5.60" lengthAdjust="spacingAndGlyphs" style="fill:#333;stroke:#333">ns</text>
<ellipse cx="249.40" cy="224.05" rx="2.8" ry="1.4" fill="#4caf50"/>
<rect x="253.95" y="220.56" width="2.50" height="2.50" fill="#c8203c" fill-opacity="0.12" stroke="#c8203c" stroke-width="0.7"/>
<rect x="254.25" y="223.92" width="2.50" height="2.50" fill="#c8203c" fill-opacity="0.12" stroke="#c8203c" stroke-width="0.7"/>
<rect x="253.95" y="228.64" width="2.50" height="2.50" fill="#c8203c" fill-opacity="0.12" stroke="#c8203c" stroke-width="0.7"/>
<line x1="253.00" y1="225.62" x2="257.40" y2="225.62" stroke="#c8203c" stroke-width="0.8"/>
<path d="M261.00,218.05 L262.40,220.57 L259.60,220.57 Z" fill="#2d5a9a" fill-opacity="0.3" stroke="#2d5a9a" stroke-width="0.7"/>
<path d="M261.90,226.58 L263.30,229.10 L260.50,229.10 Z" fill="#2d5a9a" fill-opacity="0.3" stroke="#2d5a9a" stroke-width="0.7"/>
<path d="M260.10,228.82 L261.50,231.34 L258.70,231.34 Z" fill="#2d5a9a" fill-opacity="0.3" stroke="#2d5a9a" stroke-width="0.7"/>
<path d="M261.00,231.52 L262.40,234.04 L259.60,234.04 Z" fill="#2d5a9a" fill-opacity="0.3" stroke="#2d5a9a" stroke-width="0.7"/>
<line x1="258.80" y1="227.75" x2="263.20" y2="227.75" stroke="#2d5a9a" stroke-width="0.8"/>
<line x1="261.00" y1="222.71" x2="261.00" y2="232.80" stroke="#2d5a9a" stroke-width="0.6"/>
<line x1="260.10" y1="222.71" x2="261.90" y2="222.71" stroke="#2d5a9a" stroke-width="0.6"/>
<line x1="260.10" y1="232.80" x2="261.90" y2="232.80" stroke="#2d5a9a" stroke-width="0.6"/>
<line x1="268.10" y1="199.50" x2="279.70" y2="199.50" stroke="#555" stroke-width="0.8"/>
<line x1="268.10" y1="208.50" x2="273.90" y2="208.50" stroke="#555" stroke-width="0.8"/>
<line x1="269.50" y1="196.10" x2="271.90" y2="196.10" stroke="#333" stroke-width="0.75"/>
<line x1="270.10" y1="195.06" x2="271.30" y2="197.14" stroke="#333" stroke-width="0.75"/>
<line x1="271.30" y1="195.06" x2="270.10" y2="197.14" stroke="#333" stroke-width="0.75"/>
<line x1="272.30" y1="196.10" x2="274.70" y2="196.10" stroke="#333" stroke-width="0.75"/>
<line x1="272.90" y1="195.06" x2="274.10" y2="197.14" stroke="#333" stroke-width="0.75"/>
<line x1="274.10" y1="195.06" x2="272.90" y2="197.14" stroke="#333" stroke-width="0.75"/>
<line x1="275.10" y1="196.10" x2="277.50" y2="196.10" stroke="#333" stroke-width="0.75"/>
<line x1="275.70" y1="195.06" x2="276.90" y2="197.14" stroke="#333" stroke-width="0.75"/>
<line x1="276.90" y1="195.06" x2="275.70" y2="197.14" stroke="#333" stroke-width="0.75"/>
<text x="270.60" y="206.00" font-size="7.0" text-anchor="middle" textLength="5.60" lengthAdjust="spacingAndGlyphs" style="fill:#333;stroke:#333">ns</text>
<ellipse cx="267.70" cy="224.05" rx="2.8" ry="1.4" fill="#4caf50"/>
<rect x="271.45" y="222.35" width="2.50" height="2.50" fill="#c8203c" fill-opacity="0.12" stroke="#c8203c" stroke-width="0.7"/>
<rect x="273.05" y="222.80" width="2.50" height="2.50" fill="#c8203c" fill-opacity="0.12" stroke="#c8203c" stroke-width="0.7"/>
<rect x="272.25" y="223.25" width="2.50" height="2.50" fill="#c8203c" fill-opacity="0.12" stroke="#c8203c" stroke-width="0.7"/>
<line x1="271.30" y1="224.05" x2="275.70" y2="224.05" stroke="#c8203c" stroke-width="0.8"/>
<path d="M278.50,234.21 L279.90,236.73 L277.10,236.73 Z" fill="#2d5a9a" fill-opacity="0.3" stroke="#2d5a9a" stroke-width="0.7"/>
<path d="M280.10,234.89 L281.50,237.41 L278.70,237.41 Z" fill="#2d5a9a" fill-opacity="0.3" stroke="#2d5a9a" stroke-width="0.7"/>
<path d="M279.30,236.01 L280.70,238.53 L277.90,238.53 Z" fill="#2d5a9a" fill-opacity="0.3" stroke="#2d5a9a" stroke-width="0.7"/>
<line x1="277.10" y1="236.55" x2="281.50" y2="236.55" stroke="#2d5a9a" stroke-width="0.8"/>
<line x1="286.40" y1="199.50" x2="298.00" y2="199.50" stroke="#555" stroke-width="0.8"/>
<line x1="286.40" y1="208.50" x2="292.20" y2="208.50" stroke="#555" stroke-width="0.8"/>
<line x1="289.20" y1="196.10" x2="291.60" y2="196.10" stroke="#333" stroke-width="0.75"/>
<line x1="289.80" y1="195.06" x2="291.00" y2="197.14" stroke="#333" stroke-width="0.75"/>
<line x1="291.00" y1="195.06" x2="289.80" y2="197.14" stroke="#333" stroke-width="0.75"/>
<line x1="292.00" y1="196.10" x2="294.40" y2="196.10" stroke="#333" stroke-width="0.75"/>
<line x1="292.60" y1="195.06" x2="293.80" y2="197.14" stroke="#333" stroke-width="0.75"/>
<line x1="293.80" y1="195.06" x2="292.60" y2="197.14" stroke="#333" stroke-width="0.75"/>
<text x="288.90" y="206.00" font-size="7.0" text-anchor="middle" textLength="5.60" lengthAdjust="spacingAndGlyphs" style="fill:#333;stroke:#333">ns</text>
<ellipse cx="286.00" cy="224.05" rx="2.8" ry="1.4" fill="#4caf50"/>
<rect x="289.95" y="222.80" width="2.50" height="2.50" fill="#c8203c" fill-opacity="0.12" stroke="#c8203c" stroke-width="0.7"/>
<rect x="291.35" y="223.92" width="2.50" height="2.50" fill="#c8203c" fill-opacity="0.12" stroke="#c8203c" stroke-width="0.7"/>
<rect x="290.55" y="226.84" width="2.50" height="2.50" fill="#c8203c" fill-opacity="0.12" stroke="#c8203c" stroke-width="0.7"/>
<line x1="289.60" y1="225.77" x2="294.00" y2="225.77" stroke="#c8203c" stroke-width="0.8"/>
<path d="M297.00,232.64 L298.40,235.16 L295.60,235.16 Z" fill="#2d5a9a" fill-opacity="0.3" stroke="#2d5a9a" stroke-width="0.7"/>
<path d="M298.40,231.97 L299.80,234.49 L297.00,234.49 Z" fill="#2d5a9a" fill-opacity="0.3" stroke="#2d5a9a" stroke-width="0.7"/>
<path d="M297.60,233.76 L299.00,236.28 L296.20,236.28 Z" fill="#2d5a9a" fill-opacity="0.3" stroke="#2d5a9a" stroke-width="0.7"/>
<line x1="295.40" y1="234.30" x2="299.80" y2="234.30" stroke="#2d5a9a" stroke-width="0.8"/>
<line x1="244.20" y1="198.60" x2="244.20" y2="247.10" stroke="#333" stroke-width="1.3"/>
<line x1="243.60" y1="246.50" x2="303.20" y2="246.50" stroke="#333" stroke-width="1.3"/>
<line x1="241.60" y1="201.60" x2="244.20" y2="201.60" stroke="#333" stroke-width="0.9"/>
<text x="237.60" y="203.80" font-size="6.4" class="sm" text-anchor="end" textLength="8.40" lengthAdjust="spacingAndGlyphs">2.0</text>
<line x1="241.60" y1="212.82" x2="244.20" y2="212.82" stroke="#333" stroke-width="0.9"/>
<text x="237.60" y="215.02" font-size="6.4" class="sm" text-anchor="end" textLength="8.40" lengthAdjust="spacingAndGlyphs">1.5</text>
<line x1="241.60" y1="224.05" x2="244.20" y2="224.05" stroke="#333" stroke-width="0.9"/>
<text x="237.60" y="226.25" font-size="6.4" class="sm" text-anchor="end" textLength="8.40" lengthAdjust="spacingAndGlyphs">1.0</text>
<line x1="241.60" y1="235.28" x2="244.20" y2="235.28" stroke="#333" stroke-width="0.9"/>
<text x="237.60" y="237.47" font-size="6.4" class="sm" text-anchor="end" textLength="8.40" lengthAdjust="spacingAndGlyphs">0.5</text>
<line x1="241.60" y1="246.50" x2="244.20" y2="246.50" stroke="#333" stroke-width="0.9"/>
<text x="237.60" y="248.70" font-size="6.4" class="sm" text-anchor="end" textLength="8.40" lengthAdjust="spacingAndGlyphs">0.0</text>
<line x1="255.20" y1="246.50" x2="255.20" y2="248.70" stroke="#333" stroke-width="0.9"/>
<text x="258.70" y="256.10" font-size="6.6" class="sm" text-anchor="end" textLength="18.00" lengthAdjust="spacingAndGlyphs" transform="rotate(-45 258.70 256.10)">ADMA</text>
<line x1="273.50" y1="246.50" x2="273.50" y2="248.70" stroke="#333" stroke-width="0.9"/>
<text x="277.00" y="256.10" font-size="6.6" class="sm" text-anchor="end" textLength="18.00" lengthAdjust="spacingAndGlyphs" transform="rotate(-45 277.00 256.10)">SDMA</text>
<line x1="291.80" y1="246.50" x2="291.80" y2="248.70" stroke="#333" stroke-width="0.9"/>
<text x="295.30" y="256.10" font-size="6.6" class="sm" text-anchor="end" textLength="27.20" lengthAdjust="spacingAndGlyphs" transform="rotate(-45 295.30 256.10)">H4R3me2s</text>
<text x="249.00" y="286.80" font-size="6.6" class="sm" textLength="38.50" lengthAdjust="spacingAndGlyphs">PRT-382 (nM)</text>
<circle cx="250.30" cy="294.4" r="1.45" fill="none" stroke="#4caf50" stroke-width="0.7"/>
<rect x="264.25" y="293.05" width="2.70" height="2.70" fill="#c8203c" fill-opacity="0.12" stroke="#c8203c" stroke-width="0.7"/>
<path d="M283.00,292.98 L284.50,295.68 L281.50,295.68 Z" fill="#2d5a9a" fill-opacity="0.3" stroke="#2d5a9a" stroke-width="0.7"/>
<text x="255.40" y="296.80" font-size="6.6" class="sm" textLength="3.20" lengthAdjust="spacingAndGlyphs">0</text>
<text x="270.90" y="296.80" font-size="6.6" class="sm" textLength="5.90" lengthAdjust="spacingAndGlyphs">10</text>
<text x="288.40" y="296.80" font-size="6.6" class="sm" textLength="9.40" lengthAdjust="spacingAndGlyphs">100</text>
<text x="372.30" y="184.30" font-size="8.6" text-anchor="middle" textLength="24.60" lengthAdjust="spacingAndGlyphs">Jeko-1</text>
<line x1="348.00" y1="193.50" x2="359.60" y2="193.50" stroke="#555" stroke-width="0.8"/>
<line x1="348.00" y1="204.50" x2="353.80" y2="204.50" stroke="#555" stroke-width="0.8"/>
<text x="353.40" y="191.00" font-size="7.0" text-anchor="middle" textLength="5.60" lengthAdjust="spacingAndGlyphs" style="fill:#333;stroke:#333">ns</text>
<text x="350.50" y="202.00" font-size="7.0" text-anchor="middle" textLength="5.60" lengthAdjust="spacingAndGlyphs" style="fill:#333;stroke:#333">ns</text>
<ellipse cx="347.60" cy="224.05" rx="2.8" ry="1.4" fill="#4caf50"/>
<rect x="352.15" y="217.19" width="2.50" height="2.50" fill="#c8203c" fill-opacity="0.12" stroke="#c8203c" stroke-width="0.7"/>
<rect x="352.15" y="219.43" width="2.50" height="2.50" fill="#c8203c" fill-opacity="0.12" stroke="#c8203c" stroke-width="0.7"/>
<rect x="352.65" y="221.68" width="2.50" height="2.50" fill="#c8203c" fill-opacity="0.12" stroke="#c8203c" stroke-width="0.7"/>
<rect x="352.15" y="226.17" width="2.50" height="2.50" fill="#c8203c" fill-opacity="0.12" stroke="#c8203c" stroke-width="0.7"/>
<line x1="351.20" y1="222.37" x2="355.60" y2="222.37" stroke="#c8203c" stroke-width="0.8"/>
<path d="M359.20,206.82 L360.60,209.34 L357.80,209.34 Z" fill="#2d5a9a" fill-opacity="0.3" stroke="#2d5a9a" stroke-width="0.7"/>
<path d="M359.20,210.19 L360.60,212.71 L357.80,212.71 Z" fill="#2d5a9a" fill-opacity="0.3" stroke="#2d5a9a" stroke-width="0.7"/>
<path d="M359.20,227.03 L360.60,229.55 L357.80,229.55 Z" fill="#2d5a9a" fill-opacity="0.3" stroke="#2d5a9a" stroke-width="0.7"/>
<line x1="357.00" y1="216.19" x2="361.40" y2="216.19" stroke="#2d5a9a" stroke-width="0.8"/>
<line x1="359.20" y1="207.35" x2="359.20" y2="225.03" stroke="#2d5a9a" stroke-width="0.6"/>
<line x1="358.30" y1="207.35" x2="360.10" y2="207.35" stroke="#2d5a9a" stroke-width="0.6"/>
<line x1="358.30" y1="225.03" x2="360.10" y2="225.03" stroke="#2d5a9a" stroke-width="0.6"/>
<line x1="366.30" y1="193.50" x2="377.90" y2="193.50" stroke="#555" stroke-width="0.8"/>
<line x1="366.30" y1="204.50" x2="372.10" y2="204.50" stroke="#555" stroke-width="0.8"/>
<line x1="367.70" y1="190.10" x2="370.10" y2="190.10" stroke="#333" stroke-width="0.75"/>
<line x1="368.30" y1="189.06" x2="369.50" y2="191.14" stroke="#333" stroke-width="0.75"/>
<line x1="369.50" y1="189.06" x2="368.30" y2="191.14" stroke="#333" stroke-width="0.75"/>
<line x1="370.50" y1="190.10" x2="372.90" y2="190.10" stroke="#333" stroke-width="0.75"/>
<line x1="371.10" y1="189.06" x2="372.30" y2="191.14" stroke="#333" stroke-width="0.75"/>
<line x1="372.30" y1="189.06" x2="371.10" y2="191.14" stroke="#333" stroke-width="0.75"/>
<line x1="373.30" y1="190.10" x2="375.70" y2="190.10" stroke="#333" stroke-width="0.75"/>
<line x1="373.90" y1="189.06" x2="375.10" y2="191.14" stroke="#333" stroke-width="0.75"/>
<line x1="375.10" y1="189.06" x2="373.90" y2="191.14" stroke="#333" stroke-width="0.75"/>
<line x1="367.60" y1="201.10" x2="370.00" y2="201.10" stroke="#333" stroke-width="0.75"/>
<line x1="368.20" y1="200.06" x2="369.40" y2="202.14" stroke="#333" stroke-width="0.75"/>
<line x1="369.40" y1="200.06" x2="368.20" y2="202.14" stroke="#333" stroke-width="0.75"/>
<ellipse cx="365.90" cy="224.05" rx="2.8" ry="1.4" fill="#4caf50"/>
<rect x="369.65" y="232.23" width="2.50" height="2.50" fill="#c8203c" fill-opacity="0.12" stroke="#c8203c" stroke-width="0.7"/>
<rect x="371.25" y="231.78" width="2.50" height="2.50" fill="#c8203c" fill-opacity="0.12" stroke="#c8203c" stroke-width="0.7"/>
<rect x="370.45" y="232.90" width="2.50" height="2.50" fill="#c8203c" fill-opacity="0.12" stroke="#c8203c" stroke-width="0.7"/>
<line x1="369.50" y1="233.55" x2="373.90" y2="233.55" stroke="#c8203c" stroke-width="0.8"/>
<path d="M376.60,239.38 L378.00,241.90 L375.20,241.90 Z" fill="#2d5a9a" fill-opacity="0.3" stroke="#2d5a9a" stroke-width="0.7"/>
<path d="M378.40,240.95 L379.80,243.47 L377.00,243.47 Z" fill="#2d5a9a" fill-opacity="0.3" stroke="#2d5a9a" stroke-width="0.7"/>
<path d="M377.50,242.29 L378.90,244.81 L376.10,244.81 Z" fill="#2d5a9a" fill-opacity="0.3" stroke="#2d5a9a" stroke-width="0.7"/>
<line x1="375.30" y1="242.38" x2="379.70" y2="242.38" stroke="#2d5a9a" stroke-width="0.8"/>
<line x1="384.60" y1="193.50" x2="396.20" y2="193.50" stroke="#555" stroke-width="0.8"/>
<line x1="384.60" y1="204.50" x2="390.40" y2="204.50" stroke="#555" stroke-width="0.8"/>
<line x1="384.60" y1="190.10" x2="387.00" y2="190.10" stroke="#333" stroke-width="0.75"/>
<line x1="385.20" y1="189.06" x2="386.40" y2="191.14" stroke="#333" stroke-width="0.75"/>
<line x1="386.40" y1="189.06" x2="385.20" y2="191.14" stroke="#333" stroke-width="0.75"/>
<line x1="387.40" y1="190.10" x2="389.80" y2="190.10" stroke="#333" stroke-width="0.75"/>
<line x1="388.00" y1="189.06" x2="389.20" y2="191.14" stroke="#333" stroke-width="0.75"/>
<line x1="389.20" y1="189.06" x2="388.00" y2="191.14" stroke="#333" stroke-width="0.75"/>
<line x1="390.20" y1="190.10" x2="392.60" y2="190.10" stroke="#333" stroke-width="0.75"/>
<line x1="390.80" y1="189.06" x2="392.00" y2="191.14" stroke="#333" stroke-width="0.75"/>
<line x1="392.00" y1="189.06" x2="390.80" y2="191.14" stroke="#333" stroke-width="0.75"/>
<line x1="393.00" y1="190.10" x2="395.40" y2="190.10" stroke="#333" stroke-width="0.75"/>
<line x1="393.60" y1="189.06" x2="394.80" y2="191.14" stroke="#333" stroke-width="0.75"/>
<line x1="394.80" y1="189.06" x2="393.60" y2="191.14" stroke="#333" stroke-width="0.75"/>
<line x1="384.50" y1="201.10" x2="386.90" y2="201.10" stroke="#333" stroke-width="0.75"/>
<line x1="385.10" y1="200.06" x2="386.30" y2="202.14" stroke="#333" stroke-width="0.75"/>
<line x1="386.30" y1="200.06" x2="385.10" y2="202.14" stroke="#333" stroke-width="0.75"/>
<line x1="387.30" y1="201.10" x2="389.70" y2="201.10" stroke="#333" stroke-width="0.75"/>
<line x1="387.90" y1="200.06" x2="389.10" y2="202.14" stroke="#333" stroke-width="0.75"/>
<line x1="389.10" y1="200.06" x2="387.90" y2="202.14" stroke="#333" stroke-width="0.75"/>
<ellipse cx="384.20" cy="224.05" rx="2.8" ry="1.4" fill="#4caf50"/>
<rect x="388.75" y="229.98" width="2.50" height="2.50" fill="#c8203c" fill-opacity="0.12" stroke="#c8203c" stroke-width="0.7"/>
<rect x="388.75" y="232.23" width="2.50" height="2.50" fill="#c8203c" fill-opacity="0.12" stroke="#c8203c" stroke-width="0.7"/>
<rect x="388.75" y="235.82" width="2.50" height="2.50" fill="#c8203c" fill-opacity="0.12" stroke="#c8203c" stroke-width="0.7"/>
<rect x="388.75" y="239.64" width="2.50" height="2.50" fill="#c8203c" fill-opacity="0.12" stroke="#c8203c" stroke-width="0.7"/>
<line x1="387.80" y1="235.67" x2="392.20" y2="235.67" stroke="#c8203c" stroke-width="0.8"/>
<path d="M394.80,243.19 L396.20,245.71 L393.40,245.71 Z" fill="#2d5a9a" fill-opacity="0.3" stroke="#2d5a9a" stroke-width="0.7"/>
<path d="M396.80,242.74 L398.20,245.26 L395.40,245.26 Z" fill="#2d5a9a" fill-opacity="0.3" stroke="#2d5a9a" stroke-width="0.7"/>
<path d="M395.80,244.09 L397.20,246.61 L394.40,246.61 Z" fill="#2d5a9a" fill-opacity="0.3" stroke="#2d5a9a" stroke-width="0.7"/>
<line x1="393.60" y1="244.85" x2="398.00" y2="244.85" stroke="#2d5a9a" stroke-width="0.8"/>
<line x1="342.40" y1="198.60" x2="342.40" y2="247.10" stroke="#333" stroke-width="1.3"/>
<line x1="341.80" y1="246.50" x2="401.40" y2="246.50" stroke="#333" stroke-width="1.3"/>
<line x1="339.80" y1="201.60" x2="342.40" y2="201.60" stroke="#333" stroke-width="0.9"/>
<text x="335.80" y="203.80" font-size="6.4" class="sm" text-anchor="end" textLength="8.40" lengthAdjust="spacingAndGlyphs">2.0</text>
<line x1="339.80" y1="212.82" x2="342.40" y2="212.82" stroke="#333" stroke-width="0.9"/>
<text x="335.80" y="215.02" font-size="6.4" class="sm" text-anchor="end" textLength="8.40" lengthAdjust="spacingAndGlyphs">1.5</text>
<line x1="339.80" y1="224.05" x2="342.40" y2="224.05" stroke="#333" stroke-width="0.9"/>
<text x="335.80" y="226.25" font-size="6.4" class="sm" text-anchor="end" textLength="8.40" lengthAdjust="spacingAndGlyphs">1.0</text>
<line x1="339.80" y1="235.28" x2="342.40" y2="235.28" stroke="#333" stroke-width="0.9"/>
<text x="335.80" y="237.47" font-size="6.4" class="sm" text-anchor="end" textLength="8.40" lengthAdjust="spacingAndGlyphs">0.5</text>
<line x1="339.80" y1="246.50" x2="342.40" y2="246.50" stroke="#333" stroke-width="0.9"/>
<text x="335.80" y="248.70" font-size="6.4" class="sm" text-anchor="end" textLength="8.40" lengthAdjust="spacingAndGlyphs">0.0</text>
<line x1="353.40" y1="246.50" x2="353.40" y2="248.70" stroke="#333" stroke-width="0.9"/>
<text x="356.90" y="256.10" font-size="6.6" class="sm" text-anchor="end" textLength="18.00" lengthAdjust="spacingAndGlyphs" transform="rotate(-45 356.90 256.10)">ADMA</text>
<line x1="371.70" y1="246.50" x2="371.70" y2="248.70" stroke="#333" stroke-width="0.9"/>
<text x="375.20" y="256.10" font-size="6.6" class="sm" text-anchor="end" textLength="18.00" lengthAdjust="spacingAndGlyphs" transform="rotate(-45 375.20 256.10)">SDMA</text>
<line x1="390.00" y1="246.50" x2="390.00" y2="248.70" stroke="#333" stroke-width="0.9"/>
<text x="393.50" y="256.10" font-size="6.6" class="sm" text-anchor="end" textLength="27.20" lengthAdjust="spacingAndGlyphs" transform="rotate(-45 393.50 256.10)">H4R3me2s</text>
<text x="347.60" y="286.80" font-size="6.6" class="sm" textLength="38.50" lengthAdjust="spacingAndGlyphs">PRT-382 (nM)</text>
<circle cx="349.30" cy="294.4" r="1.45" fill="none" stroke="#4caf50" stroke-width="0.7"/>
<rect x="362.85" y="293.05" width="2.70" height="2.70" fill="#c8203c" fill-opacity="0.12" stroke="#c8203c" stroke-width="0.7"/>
<path d="M382.20,292.98 L383.70,295.68 L380.70,295.68 Z" fill="#2d5a9a" fill-opacity="0.3" stroke="#2d5a9a" stroke-width="0.7"/>
<text x="353.80" y="296.80" font-size="6.6" class="sm" textLength="3.20" lengthAdjust="spacingAndGlyphs">0</text>
<text x="369.40" y="296.80" font-size="6.6" class="sm" textLength="9.40" lengthAdjust="spacingAndGlyphs">100</text>
<text x="386.70" y="296.80" font-size="6.6" class="sm" textLength="12.80" lengthAdjust="spacingAndGlyphs">1000</text>
<text x="471.90" y="184.30" font-size="8.6" text-anchor="middle" textLength="20.70" lengthAdjust="spacingAndGlyphs">Z-138</text>
<line x1="446.00" y1="198.50" x2="457.60" y2="198.50" stroke="#555" stroke-width="0.8"/>
<line x1="446.00" y1="209.50" x2="451.80" y2="209.50" stroke="#555" stroke-width="0.8"/>
<text x="451.40" y="196.00" font-size="7.0" text-anchor="middle" textLength="5.60" lengthAdjust="spacingAndGlyphs" style="fill:#333;stroke:#333">ns</text>
<text x="448.50" y="207.00" font-size="7.0" text-anchor="middle" textLength="5.60" lengthAdjust="spacingAndGlyphs" style="fill:#333;stroke:#333">ns</text>
<ellipse cx="445.60" cy="224.05" rx="2.8" ry="1.4" fill="#4caf50"/>
<rect x="450.15" y="216.06" width="2.50" height="2.50" fill="#c8203c" fill-opacity="0.12" stroke="#c8203c" stroke-width="0.7"/>
<rect x="450.15" y="219.43" width="2.50" height="2.50" fill="#c8203c" fill-opacity="0.12" stroke="#c8203c" stroke-width="0.7"/>
<rect x="450.65" y="221.68" width="2.50" height="2.50" fill="#c8203c" fill-opacity="0.12" stroke="#c8203c" stroke-width="0.7"/>
<rect x="450.15" y="225.49" width="2.50" height="2.50" fill="#c8203c" fill-opacity="0.12" stroke="#c8203c" stroke-width="0.7"/>
<line x1="449.20" y1="221.92" x2="453.60" y2="221.92" stroke="#c8203c" stroke-width="0.8"/>
<path d="M457.20,212.44 L458.60,214.96 L455.80,214.96 Z" fill="#2d5a9a" fill-opacity="0.3" stroke="#2d5a9a" stroke-width="0.7"/>
<path d="M457.20,218.05 L458.60,220.57 L455.80,220.57 Z" fill="#2d5a9a" fill-opacity="0.3" stroke="#2d5a9a" stroke-width="0.7"/>
<path d="M457.20,225.23 L458.60,227.75 L455.80,227.75 Z" fill="#2d5a9a" fill-opacity="0.3" stroke="#2d5a9a" stroke-width="0.7"/>
<path d="M457.20,231.97 L458.60,234.49 L455.80,234.49 Z" fill="#2d5a9a" fill-opacity="0.3" stroke="#2d5a9a" stroke-width="0.7"/>
<line x1="455.00" y1="223.43" x2="459.40" y2="223.43" stroke="#2d5a9a" stroke-width="0.8"/>
<line x1="457.20" y1="216.07" x2="457.20" y2="230.80" stroke="#2d5a9a" stroke-width="0.6"/>
<line x1="456.30" y1="216.07" x2="458.10" y2="216.07" stroke="#2d5a9a" stroke-width="0.6"/>
<line x1="456.30" y1="230.80" x2="458.10" y2="230.80" stroke="#2d5a9a" stroke-width="0.6"/>
<line x1="464.30" y1="198.50" x2="475.90" y2="198.50" stroke="#555" stroke-width="0.8"/>
<line x1="464.30" y1="209.50" x2="470.10" y2="209.50" stroke="#555" stroke-width="0.8"/>
<line x1="464.30" y1="195.10" x2="466.70" y2="195.10" stroke="#333" stroke-width="0.75"/>
<line x1="464.90" y1="194.06" x2="466.10" y2="196.14" stroke="#333" stroke-width="0.75"/>
<line x1="466.10" y1="194.06" x2="464.90" y2="196.14" stroke="#333" stroke-width="0.75"/>
<line x1="467.10" y1="195.10" x2="469.50" y2="195.10" stroke="#333" stroke-width="0.75"/>
<line x1="467.70" y1="194.06" x2="468.90" y2="196.14" stroke="#333" stroke-width="0.75"/>
<line x1="468.90" y1="194.06" x2="467.70" y2="196.14" stroke="#333" stroke-width="0.75"/>
<line x1="469.90" y1="195.10" x2="472.30" y2="195.10" stroke="#333" stroke-width="0.75"/>
<line x1="470.50" y1="194.06" x2="471.70" y2="196.14" stroke="#333" stroke-width="0.75"/>
<line x1="471.70" y1="194.06" x2="470.50" y2="196.14" stroke="#333" stroke-width="0.75"/>
<line x1="472.70" y1="195.10" x2="475.10" y2="195.10" stroke="#333" stroke-width="0.75"/>
<line x1="473.30" y1="194.06" x2="474.50" y2="196.14" stroke="#333" stroke-width="0.75"/>
<line x1="474.50" y1="194.06" x2="473.30" y2="196.14" stroke="#333" stroke-width="0.75"/>
<line x1="462.80" y1="206.10" x2="465.20" y2="206.10" stroke="#333" stroke-width="0.75"/>
<line x1="463.40" y1="205.06" x2="464.60" y2="207.14" stroke="#333" stroke-width="0.75"/>
<line x1="464.60" y1="205.06" x2="463.40" y2="207.14" stroke="#333" stroke-width="0.75"/>
<line x1="465.60" y1="206.10" x2="468.00" y2="206.10" stroke="#333" stroke-width="0.75"/>
<line x1="466.20" y1="205.06" x2="467.40" y2="207.14" stroke="#333" stroke-width="0.75"/>
<line x1="467.40" y1="205.06" x2="466.20" y2="207.14" stroke="#333" stroke-width="0.75"/>
<line x1="468.40" y1="206.10" x2="470.80" y2="206.10" stroke="#333" stroke-width="0.75"/>
<line x1="469.00" y1="205.06" x2="470.20" y2="207.14" stroke="#333" stroke-width="0.75"/>
<line x1="470.20" y1="205.06" x2="469.00" y2="207.14" stroke="#333" stroke-width="0.75"/>
<ellipse cx="463.90" cy="224.05" rx="2.8" ry="1.4" fill="#4caf50"/>
<rect x="468.45" y="233.58" width="2.50" height="2.50" fill="#c8203c" fill-opacity="0.12" stroke="#c8203c" stroke-width="0.7"/>
<rect x="469.25" y="236.72" width="2.50" height="2.50" fill="#c8203c" fill-opacity="0.12" stroke="#c8203c" stroke-width="0.7"/>
<rect x="467.85" y="239.64" width="2.50" height="2.50" fill="#c8203c" fill-opacity="0.12" stroke="#c8203c" stroke-width="0.7"/>
<line x1="467.50" y1="237.89" x2="471.90" y2="237.89" stroke="#c8203c" stroke-width="0.8"/>
<path d="M474.70,243.87 L476.10,246.39 L473.30,246.39 Z" fill="#2d5a9a" fill-opacity="0.3" stroke="#2d5a9a" stroke-width="0.7"/>
<path d="M476.30,243.87 L477.70,246.39 L474.90,246.39 Z" fill="#2d5a9a" fill-opacity="0.3" stroke="#2d5a9a" stroke-width="0.7"/>
<path d="M475.50,244.09 L476.90,246.61 L474.10,246.61 Z" fill="#2d5a9a" fill-opacity="0.3" stroke="#2d5a9a" stroke-width="0.7"/>
<line x1="473.30" y1="245.45" x2="477.70" y2="245.45" stroke="#2d5a9a" stroke-width="0.8"/>
<line x1="482.60" y1="198.50" x2="494.20" y2="198.50" stroke="#555" stroke-width="0.8"/>
<line x1="482.60" y1="209.50" x2="488.40" y2="209.50" stroke="#555" stroke-width="0.8"/>
<line x1="482.60" y1="195.10" x2="485.00" y2="195.10" stroke="#333" stroke-width="0.75"/>
<line x1="483.20" y1="194.06" x2="484.40" y2="196.14" stroke="#333" stroke-width="0.75"/>
<line x1="484.40" y1="194.06" x2="483.20" y2="196.14" stroke="#333" stroke-width="0.75"/>
<line x1="485.40" y1="195.10" x2="487.80" y2="195.10" stroke="#333" stroke-width="0.75"/>
<line x1="486.00" y1="194.06" x2="487.20" y2="196.14" stroke="#333" stroke-width="0.75"/>
<line x1="487.20" y1="194.06" x2="486.00" y2="196.14" stroke="#333" stroke-width="0.75"/>
<line x1="488.20" y1="195.10" x2="490.60" y2="195.10" stroke="#333" stroke-width="0.75"/>
<line x1="488.80" y1="194.06" x2="490.00" y2="196.14" stroke="#333" stroke-width="0.75"/>
<line x1="490.00" y1="194.06" x2="488.80" y2="196.14" stroke="#333" stroke-width="0.75"/>
<line x1="491.00" y1="195.10" x2="493.40" y2="195.10" stroke="#333" stroke-width="0.75"/>
<line x1="491.60" y1="194.06" x2="492.80" y2="196.14" stroke="#333" stroke-width="0.75"/>
<line x1="492.80" y1="194.06" x2="491.60" y2="196.14" stroke="#333" stroke-width="0.75"/>
<line x1="482.50" y1="206.10" x2="484.90" y2="206.10" stroke="#333" stroke-width="0.75"/>
<line x1="483.10" y1="205.06" x2="484.30" y2="207.14" stroke="#333" stroke-width="0.75"/>
<line x1="484.30" y1="205.06" x2="483.10" y2="207.14" stroke="#333" stroke-width="0.75"/>
<line x1="485.30" y1="206.10" x2="487.70" y2="206.10" stroke="#333" stroke-width="0.75"/>
<line x1="485.90" y1="205.06" x2="487.10" y2="207.14" stroke="#333" stroke-width="0.75"/>
<line x1="487.10" y1="205.06" x2="485.90" y2="207.14" stroke="#333" stroke-width="0.75"/>
<ellipse cx="482.20" cy="224.05" rx="2.8" ry="1.4" fill="#4caf50"/>
<rect x="486.75" y="234.47" width="2.50" height="2.50" fill="#c8203c" fill-opacity="0.12" stroke="#c8203c" stroke-width="0.7"/>
<rect x="487.35" y="236.72" width="2.50" height="2.50" fill="#c8203c" fill-opacity="0.12" stroke="#c8203c" stroke-width="0.7"/>
<rect x="486.15" y="238.51" width="2.50" height="2.50" fill="#c8203c" fill-opacity="0.12" stroke="#c8203c" stroke-width="0.7"/>
<line x1="485.80" y1="237.82" x2="490.20" y2="237.82" stroke="#c8203c" stroke-width="0.8"/>
<path d="M493.00,244.09 L494.40,246.61 L491.60,246.61 Z" fill="#2d5a9a" fill-opacity="0.3" stroke="#2d5a9a" stroke-width="0.7"/>
<path d="M494.60,244.09 L496.00,246.61 L493.20,246.61 Z" fill="#2d5a9a" fill-opacity="0.3" stroke="#2d5a9a" stroke-width="0.7"/>
<line x1="491.60" y1="245.60" x2="496.00" y2="245.60" stroke="#2d5a9a" stroke-width="0.8"/>
<line x1="440.40" y1="198.60" x2="440.40" y2="247.10" stroke="#333" stroke-width="1.3"/>
<line x1="439.80" y1="246.50" x2="499.40" y2="246.50" stroke="#333" stroke-width="1.3"/>
<line x1="437.80" y1="201.60" x2="440.40" y2="201.60" stroke="#333" stroke-width="0.9"/>
<text x="433.80" y="203.80" font-size="6.4" class="sm" text-anchor="end" textLength="8.40" lengthAdjust="spacingAndGlyphs">2.0</text>
<line x1="437.80" y1="212.82" x2="440.40" y2="212.82" stroke="#333" stroke-width="0.9"/>
<text x="433.80" y="215.02" font-size="6.4" class="sm" text-anchor="end" textLength="8.40" lengthAdjust="spacingAndGlyphs">1.5</text>
<line x1="437.80" y1="224.05" x2="440.40" y2="224.05" stroke="#333" stroke-width="0.9"/>
<text x="433.80" y="226.25" font-size="6.4" class="sm" text-anchor="end" textLength="8.40" lengthAdjust="spacingAndGlyphs">1.0</text>
<line x1="437.80" y1="235.28" x2="440.40" y2="235.28" stroke="#333" stroke-width="0.9"/>
<text x="433.80" y="237.47" font-size="6.4" class="sm" text-anchor="end" textLength="8.40" lengthAdjust="spacingAndGlyphs">0.5</text>
<line x1="437.80" y1="246.50" x2="440.40" y2="246.50" stroke="#333" stroke-width="0.9"/>
<text x="433.80" y="248.70" font-size="6.4" class="sm" text-anchor="end" textLength="8.40" lengthAdjust="spacingAndGlyphs">0.0</text>
<line x1="451.40" y1="246.50" x2="451.40" y2="248.70" stroke="#333" stroke-width="0.9"/>
<text x="454.90" y="256.10" font-size="6.6" class="sm" text-anchor="end" textLength="18.00" lengthAdjust="spacingAndGlyphs" transform="rotate(-45 454.90 256.10)">ADMA</text>
<line x1="469.70" y1="246.50" x2="469.70" y2="248.70" stroke="#333" stroke-width="0.9"/>
<text x="473.20" y="256.10" font-size="6.6" class="sm" text-anchor="end" textLength="18.00" lengthAdjust="spacingAndGlyphs" transform="rotate(-45 473.20 256.10)">SDMA</text>
<line x1="488.00" y1="246.50" x2="488.00" y2="248.70" stroke="#333" stroke-width="0.9"/>
<text x="491.50" y="256.10" font-size="6.6" class="sm" text-anchor="end" textLength="27.20" lengthAdjust="spacingAndGlyphs" transform="rotate(-45 491.50 256.10)">H4R3me2s</text>
<text x="447.30" y="286.80" font-size="6.6" class="sm" textLength="38.50" lengthAdjust="spacingAndGlyphs">PRT-382 (nM)</text>
<circle cx="448.30" cy="294.4" r="1.45" fill="none" stroke="#4caf50" stroke-width="0.7"/>
<rect x="461.45" y="293.05" width="2.70" height="2.70" fill="#c8203c" fill-opacity="0.12" stroke="#c8203c" stroke-width="0.7"/>
<path d="M481.20,292.98 L482.70,295.68 L479.70,295.68 Z" fill="#2d5a9a" fill-opacity="0.3" stroke="#2d5a9a" stroke-width="0.7"/>
<text x="453.20" y="296.80" font-size="6.6" class="sm" textLength="3.20" lengthAdjust="spacingAndGlyphs">0</text>
<text x="468.00" y="296.80" font-size="6.6" class="sm" textLength="9.40" lengthAdjust="spacingAndGlyphs">100</text>
<text x="485.30" y="296.80" font-size="6.6" class="sm" textLength="12.80" lengthAdjust="spacingAndGlyphs">1000</text>
<text x="213.80" y="222.80" font-size="8.0" text-anchor="middle" textLength="34.10" lengthAdjust="spacingAndGlyphs" transform="rotate(-90 213.80 222.80)">Normalized</text>
<text x="223.90" y="222.80" font-size="8.0" text-anchor="middle" textLength="54.00" lengthAdjust="spacingAndGlyphs" transform="rotate(-90 223.90 222.80)">protein expression</text>
<text x="69.50" y="333.80" font-size="6.8" textLength="25.50" lengthAdjust="spacingAndGlyphs">CCMCL1</text>
<text x="100.50" y="333.80" font-size="6.8" textLength="19.00" lengthAdjust="spacingAndGlyphs">Jeko-1</text>
<text x="127.50" y="333.80" font-size="6.8" textLength="16.20" lengthAdjust="spacingAndGlyphs">Z-138</text>
<text x="151.20" y="334.20" font-size="6.8" textLength="23.60" lengthAdjust="spacingAndGlyphs" font-weight="bold" style="fill:#111;stroke:#111">PRT-382</text>
<text x="151.20" y="343.80" font-size="6.8" textLength="31.80" lengthAdjust="spacingAndGlyphs" font-weight="bold" style="fill:#111;stroke:#111">(nM) day 3</text>
<text x="77.00" y="352.30" font-size="5.8" class="sm" textLength="3.40" lengthAdjust="spacingAndGlyphs" transform="rotate(-90 77.00 352.30)">0</text>
<text x="85.08" y="352.30" font-size="5.8" class="sm" textLength="6.80" lengthAdjust="spacingAndGlyphs" transform="rotate(-90 85.08 352.30)">10</text>
<text x="93.16" y="352.30" font-size="5.8" class="sm" textLength="10.20" lengthAdjust="spacingAndGlyphs" transform="rotate(-90 93.16 352.30)">100</text>
<text x="101.24" y="352.30" font-size="5.8" class="sm" textLength="3.40" lengthAdjust="spacingAndGlyphs" transform="rotate(-90 101.24 352.30)">0</text>
<text x="109.32" y="352.30" font-size="5.8" class="sm" textLength="10.20" lengthAdjust="spacingAndGlyphs" transform="rotate(-90 109.32 352.30)">100</text>
<text x="117.40" y="352.30" font-size="5.8" class="sm" textLength="13.60" lengthAdjust="spacingAndGlyphs" transform="rotate(-90 117.40 352.30)">1000</text>
<text x="125.48" y="352.30" font-size="5.8" class="sm" textLength="3.40" lengthAdjust="spacingAndGlyphs" transform="rotate(-90 125.48 352.30)">0</text>
<text x="133.56" y="352.30" font-size="5.8" class="sm" textLength="10.20" lengthAdjust="spacingAndGlyphs" transform="rotate(-90 133.56 352.30)">100</text>
<text x="141.64" y="352.30" font-size="5.8" class="sm" textLength="13.60" lengthAdjust="spacingAndGlyphs" transform="rotate(-90 141.64 352.30)">1000</text>
<rect x="68.80" y="355.80" width="78.90" height="9.50" fill="#e6e6e6"/>
<rect x="69.30" y="360.25" width="8.00" height="2.50" rx="1.25" fill="#111" fill-opacity="0.18"/>
<rect x="69.50" y="360.70" width="7.60" height="1.60" rx="0.80" fill="#111" fill-opacity="0.60"/>
<rect x="78.00" y="360.25" width="8.00" height="2.50" rx="1.25" fill="#111" fill-opacity="0.17"/>
<rect x="78.20" y="360.70" width="7.60" height="1.60" rx="0.80" fill="#111" fill-opacity="0.55"/>
<rect x="86.70" y="360.25" width="8.00" height="2.50" rx="1.25" fill="#111" fill-opacity="0.10"/>
<rect x="86.90" y="360.70" width="7.60" height="1.60" rx="0.80" fill="#111" fill-opacity="0.35"/>
<rect x="95.40" y="360.25" width="8.00" height="2.50" rx="1.25" fill="#111" fill-opacity="0.26"/>
<rect x="95.60" y="360.70" width="7.60" height="1.60" rx="0.80" fill="#111" fill-opacity="0.85"/>
<rect x="104.10" y="360.25" width="8.00" height="2.50" rx="1.25" fill="#111" fill-opacity="0.15"/>
<rect x="104.30" y="360.70" width="7.60" height="1.60" rx="0.80" fill="#111" fill-opacity="0.50"/>
<rect x="112.80" y="360.25" width="8.00" height="2.50" rx="1.25" fill="#111" fill-opacity="0.04"/>
<rect x="113.00" y="360.70" width="7.60" height="1.60" rx="0.80" fill="#111" fill-opacity="0.12"/>
<rect x="121.50" y="360.25" width="8.00" height="2.50" rx="1.25" fill="#111" fill-opacity="0.21"/>
<rect x="121.70" y="360.70" width="7.60" height="1.60" rx="0.80" fill="#111" fill-opacity="0.70"/>
<rect x="130.20" y="360.25" width="8.00" height="2.50" rx="1.25" fill="#111" fill-opacity="0.09"/>
<rect x="130.40" y="360.70" width="7.60" height="1.60" rx="0.80" fill="#111" fill-opacity="0.30"/>
<rect x="138.90" y="360.25" width="8.00" height="2.50" rx="1.25" fill="#111" fill-opacity="0.01"/>
<rect x="139.10" y="360.70" width="7.60" height="1.60" rx="0.80" fill="#111" fill-opacity="0.04"/>
<rect x="68.80" y="367.90" width="78.90" height="7.80" fill="#e6e6e6"/>
<rect x="69.30" y="370.35" width="8.00" height="2.70" rx="1.35" fill="#111" fill-opacity="0.24"/>
<rect x="69.50" y="370.80" width="7.60" height="1.80" rx="0.90" fill="#111" fill-opacity="0.80"/>
<rect x="78.00" y="370.35" width="8.00" height="2.70" rx="1.35" fill="#111" fill-opacity="0.22"/>
<rect x="78.20" y="370.80" width="7.60" height="1.80" rx="0.90" fill="#111" fill-opacity="0.75"/>
<rect x="86.70" y="370.35" width="8.00" height="2.70" rx="1.35" fill="#111" fill-opacity="0.21"/>
<rect x="86.90" y="370.80" width="7.60" height="1.80" rx="0.90" fill="#111" fill-opacity="0.70"/>
<rect x="95.40" y="370.35" width="8.00" height="2.70" rx="1.35" fill="#111" fill-opacity="0.24"/>
<rect x="95.60" y="370.80" width="7.60" height="1.80" rx="0.90" fill="#111" fill-opacity="0.80"/>
<rect x="104.10" y="370.35" width="8.00" height="2.70" rx="1.35" fill="#111" fill-opacity="0.21"/>
<rect x="104.30" y="370.80" width="7.60" height="1.80" rx="0.90" fill="#111" fill-opacity="0.70"/>
<rect x="112.80" y="370.35" width="8.00" height="2.70" rx="1.35" fill="#111" fill-opacity="0.18"/>
<rect x="113.00" y="370.80" width="7.60" height="1.80" rx="0.90" fill="#111" fill-opacity="0.60"/>
<rect x="121.50" y="370.35" width="8.00" height="2.70" rx="1.35" fill="#111" fill-opacity="0.18"/>
<rect x="121.70" y="370.80" width="7.60" height="1.80" rx="0.90" fill="#111" fill-opacity="0.60"/>
<rect x="130.20" y="370.35" width="8.00" height="2.70" rx="1.35" fill="#111" fill-opacity="0.21"/>
<rect x="130.40" y="370.80" width="7.60" height="1.80" rx="0.90" fill="#111" fill-opacity="0.70"/>
<rect x="138.90" y="370.35" width="8.00" height="2.70" rx="1.35" fill="#111" fill-opacity="0.15"/>
<rect x="139.10" y="370.80" width="7.60" height="1.80" rx="0.90" fill="#111" fill-opacity="0.50"/>
<rect x="68.20" y="378.80" width="80.60" height="31.50" fill="#e8e8e8"/>
<rect x="95.90" y="380.60" width="7.00" height="1.80" rx="0.90" fill="#111" fill-opacity="0.03"/>
<rect x="96.10" y="381.05" width="6.60" height="0.90" rx="0.45" fill="#111" fill-opacity="0.10"/>
<rect x="95.90" y="383.10" width="7.00" height="1.80" rx="0.90" fill="#111" fill-opacity="0.03"/>
<rect x="96.10" y="383.55" width="6.60" height="0.90" rx="0.45" fill="#111" fill-opacity="0.10"/>
<rect x="95.90" y="385.60" width="7.00" height="1.80" rx="0.90" fill="#111" fill-opacity="0.03"/>
<rect x="96.10" y="386.05" width="6.60" height="0.90" rx="0.45" fill="#111" fill-opacity="0.10"/>
<rect x="95.90" y="388.10" width="7.00" height="1.80" rx="0.90" fill="#111" fill-opacity="0.03"/>
<rect x="96.10" y="388.55" width="6.60" height="0.90" rx="0.45" fill="#111" fill-opacity="0.10"/>
<rect x="95.90" y="390.60" width="7.00" height="1.80" rx="0.90" fill="#111" fill-opacity="0.03"/>
<rect x="96.10" y="391.05" width="6.60" height="0.90" rx="0.45" fill="#111" fill-opacity="0.10"/>
<rect x="104.60" y="380.60" width="7.00" height="1.80" rx="0.90" fill="#111" fill-opacity="0.01"/>
<rect x="104.80" y="381.05" width="6.60" height="0.90" rx="0.45" fill="#111" fill-opacity="0.03"/>
<rect x="104.60" y="383.10" width="7.00" height="1.80" rx="0.90" fill="#111" fill-opacity="0.01"/>
<rect x="104.80" y="383.55" width="6.60" height="0.90" rx="0.45" fill="#111" fill-opacity="0.03"/>
<rect x="104.60" y="385.60" width="7.00" height="1.80" rx="0.90" fill="#111" fill-opacity="0.01"/>
<rect x="104.80" y="386.05" width="6.60" height="0.90" rx="0.45" fill="#111" fill-opacity="0.03"/>
<rect x="104.60" y="388.10" width="7.00" height="1.80" rx="0.90" fill="#111" fill-opacity="0.01"/>
<rect x="104.80" y="388.55" width="6.60" height="0.90" rx="0.45" fill="#111" fill-opacity="0.03"/>
<rect x="104.60" y="390.60" width="7.00" height="1.80" rx="0.90" fill="#111" fill-opacity="0.01"/>
<rect x="104.80" y="391.05" width="6.60" height="0.90" rx="0.45" fill="#111" fill-opacity="0.03"/>
<rect x="122.00" y="380.60" width="7.00" height="1.80" rx="0.90" fill="#111" fill-opacity="0.02"/>
<rect x="122.20" y="381.05" width="6.60" height="0.90" rx="0.45" fill="#111" fill-opacity="0.06"/>
<rect x="122.00" y="383.10" width="7.00" height="1.80" rx="0.90" fill="#111" fill-opacity="0.02"/>
<rect x="122.20" y="383.55" width="6.60" height="0.90" rx="0.45" fill="#111" fill-opacity="0.06"/>
<rect x="122.00" y="385.60" width="7.00" height="1.80" rx="0.90" fill="#111" fill-opacity="0.02"/>
<rect x="122.20" y="386.05" width="6.60" height="0.90" rx="0.45" fill="#111" fill-opacity="0.06"/>
<rect x="122.00" y="388.10" width="7.00" height="1.80" rx="0.90" fill="#111" fill-opacity="0.02"/>
<rect x="122.20" y="388.55" width="6.60" height="0.90" rx="0.45" fill="#111" fill-opacity="0.06"/>
<rect x="122.00" y="390.60" width="7.00" height="1.80" rx="0.90" fill="#111" fill-opacity="0.02"/>
<rect x="122.20" y="391.05" width="6.60" height="0.90" rx="0.45" fill="#111" fill-opacity="0.06"/>
<rect x="69.30" y="396.75" width="8.00" height="2.90" rx="1.45" fill="#111" fill-opacity="0.24"/>
<rect x="69.50" y="397.20" width="7.60" height="2.00" rx="1.00" fill="#111" fill-opacity="0.80"/>
<rect x="69.55" y="394.50" width="7.50" height="1.80" rx="0.90" fill="#111" fill-opacity="0.06"/>
<rect x="69.75" y="394.95" width="7.10" height="0.90" rx="0.45" fill="#111" fill-opacity="0.20"/>
<rect x="78.00" y="396.75" width="8.00" height="2.90" rx="1.45" fill="#111" fill-opacity="0.24"/>
<rect x="78.20" y="397.20" width="7.60" height="2.00" rx="1.00" fill="#111" fill-opacity="0.80"/>
<rect x="78.25" y="394.50" width="7.50" height="1.80" rx="0.90" fill="#111" fill-opacity="0.06"/>
<rect x="78.45" y="394.95" width="7.10" height="0.90" rx="0.45" fill="#111" fill-opacity="0.20"/>
<rect x="86.70" y="396.75" width="8.00" height="2.90" rx="1.45" fill="#111" fill-opacity="0.15"/>
<rect x="86.90" y="397.20" width="7.60" height="2.00" rx="1.00" fill="#111" fill-opacity="0.50"/>
<rect x="86.95" y="394.50" width="7.50" height="1.80" rx="0.90" fill="#111" fill-opacity="0.04"/>
<rect x="87.15" y="394.95" width="7.10" height="0.90" rx="0.45" fill="#111" fill-opacity="0.12"/>
<rect x="95.40" y="396.75" width="8.00" height="2.90" rx="1.45" fill="#111" fill-opacity="0.30"/>
<rect x="95.60" y="397.20" width="7.60" height="2.00" rx="1.00" fill="#111" fill-opacity="1.00"/>
<rect x="95.65" y="394.50" width="7.50" height="1.80" rx="0.90" fill="#111" fill-opacity="0.07"/>
<rect x="95.85" y="394.95" width="7.10" height="0.90" rx="0.45" fill="#111" fill-opacity="0.25"/>
<rect x="104.10" y="396.75" width="8.00" height="2.90" rx="1.45" fill="#111" fill-opacity="0.24"/>
<rect x="104.30" y="397.20" width="7.60" height="2.00" rx="1.00" fill="#111" fill-opacity="0.80"/>
<rect x="104.35" y="394.50" width="7.50" height="1.80" rx="0.90" fill="#111" fill-opacity="0.06"/>
<rect x="104.55" y="394.95" width="7.10" height="0.90" rx="0.45" fill="#111" fill-opacity="0.20"/>
<rect x="112.80" y="396.75" width="8.00" height="2.90" rx="1.45" fill="#111" fill-opacity="0.09"/>
<rect x="113.00" y="397.20" width="7.60" height="2.00" rx="1.00" fill="#111" fill-opacity="0.30"/>
<rect x="113.05" y="394.50" width="7.50" height="1.80" rx="0.90" fill="#111" fill-opacity="0.02"/>
<rect x="113.25" y="394.95" width="7.10" height="0.90" rx="0.45" fill="#111" fill-opacity="0.07"/>
<rect x="121.50" y="396.75" width="8.00" height="2.90" rx="1.45" fill="#111" fill-opacity="0.30"/>
<rect x="121.70" y="397.20" width="7.60" height="2.00" rx="1.00" fill="#111" fill-opacity="1.00"/>
<rect x="121.75" y="394.50" width="7.50" height="1.80" rx="0.90" fill="#111" fill-opacity="0.07"/>
<rect x="121.95" y="394.95" width="7.10" height="0.90" rx="0.45" fill="#111" fill-opacity="0.25"/>
<rect x="130.20" y="396.75" width="8.00" height="2.90" rx="1.45" fill="#111" fill-opacity="0.21"/>
<rect x="130.40" y="397.20" width="7.60" height="2.00" rx="1.00" fill="#111" fill-opacity="0.70"/>
<rect x="130.45" y="394.50" width="7.50" height="1.80" rx="0.90" fill="#111" fill-opacity="0.05"/>
<rect x="130.65" y="394.95" width="7.10" height="0.90" rx="0.45" fill="#111" fill-opacity="0.17"/>
<rect x="138.90" y="396.75" width="8.00" height="2.90" rx="1.45" fill="#111" fill-opacity="0.04"/>
<rect x="139.10" y="397.20" width="7.60" height="2.00" rx="1.00" fill="#111" fill-opacity="0.12"/>
<rect x="139.15" y="394.50" width="7.50" height="1.80" rx="0.90" fill="#111" fill-opacity="0.01"/>
<rect x="139.35" y="394.95" width="7.10" height="0.90" rx="0.45" fill="#111" fill-opacity="0.03"/>
<rect x="69.30" y="405.15" width="8.00" height="2.90" rx="1.45" fill="#111" fill-opacity="0.26"/>
<rect x="69.50" y="405.60" width="7.60" height="2.00" rx="1.00" fill="#111" fill-opacity="0.85"/>
<rect x="78.00" y="405.15" width="8.00" height="2.90" rx="1.45" fill="#111" fill-opacity="0.26"/>
<rect x="78.20" y="405.60" width="7.60" height="2.00" rx="1.00" fill="#111" fill-opacity="0.85"/>
<rect x="86.70" y="405.15" width="8.00" height="2.90" rx="1.45" fill="#111" fill-opacity="0.15"/>
<rect x="86.90" y="405.60" width="7.60" height="2.00" rx="1.00" fill="#111" fill-opacity="0.50"/>
<rect x="95.40" y="405.15" width="8.00" height="2.90" rx="1.45" fill="#111" fill-opacity="0.30"/>
<rect x="95.60" y="405.60" width="7.60" height="2.00" rx="1.00" fill="#111" fill-opacity="1.00"/>
<rect x="104.10" y="405.15" width="8.00" height="2.90" rx="1.45" fill="#111" fill-opacity="0.27"/>
<rect x="104.30" y="405.60" width="7.60" height="2.00" rx="1.00" fill="#111" fill-opacity="0.90"/>
<rect x="112.80" y="405.15" width="8.00" height="2.90" rx="1.45" fill="#111" fill-opacity="0.09"/>
<rect x="113.00" y="405.60" width="7.60" height="2.00" rx="1.00" fill="#111" fill-opacity="0.30"/>
<rect x="121.50" y="405.15" width="8.00" height="2.90" rx="1.45" fill="#111" fill-opacity="0.30"/>
<rect x="121.70" y="405.60" width="7.60" height="2.00" rx="1.00" fill="#111" fill-opacity="1.00"/>
<rect x="130.20" y="405.15" width="8.00" height="2.90" rx="1.45" fill="#111" fill-opacity="0.24"/>
<rect x="130.40" y="405.60" width="7.60" height="2.00" rx="1.00" fill="#111" fill-opacity="0.80"/>
<rect x="138.90" y="405.15" width="8.00" height="2.90" rx="1.45" fill="#111" fill-opacity="0.02"/>
<rect x="139.10" y="405.60" width="7.60" height="2.00" rx="1.00" fill="#111" fill-opacity="0.08"/>
<rect x="68.20" y="412.60" width="80.60" height="7.60" fill="#e6e6e6"/>
<rect x="69.30" y="415.10" width="8.00" height="2.60" rx="1.30" fill="#111" fill-opacity="0.20"/>
<rect x="69.50" y="415.55" width="7.60" height="1.70" rx="0.85" fill="#111" fill-opacity="0.65"/>
<rect x="78.00" y="415.10" width="8.00" height="2.60" rx="1.30" fill="#111" fill-opacity="0.20"/>
<rect x="78.20" y="415.55" width="7.60" height="1.70" rx="0.85" fill="#111" fill-opacity="0.65"/>
<rect x="86.70" y="415.10" width="8.00" height="2.60" rx="1.30" fill="#111" fill-opacity="0.20"/>
<rect x="86.90" y="415.55" width="7.60" height="1.70" rx="0.85" fill="#111" fill-opacity="0.65"/>
<rect x="95.40" y="415.10" width="8.00" height="2.60" rx="1.30" fill="#111" fill-opacity="0.21"/>
<rect x="95.60" y="415.55" width="7.60" height="1.70" rx="0.85" fill="#111" fill-opacity="0.70"/>
<rect x="104.10" y="415.10" width="8.00" height="2.60" rx="1.30" fill="#111" fill-opacity="0.21"/>
<rect x="104.30" y="415.55" width="7.60" height="1.70" rx="0.85" fill="#111" fill-opacity="0.70"/>
<rect x="112.80" y="415.10" width="8.00" height="2.60" rx="1.30" fill="#111" fill-opacity="0.18"/>
<rect x="113.00" y="415.55" width="7.60" height="1.70" rx="0.85" fill="#111" fill-opacity="0.60"/>
<rect x="121.50" y="415.10" width="8.00" height="2.60" rx="1.30" fill="#111" fill-opacity="0.18"/>
<rect x="121.70" y="415.55" width="7.60" height="1.70" rx="0.85" fill="#111" fill-opacity="0.60"/>
<rect x="130.20" y="415.10" width="8.00" height="2.60" rx="1.30" fill="#111" fill-opacity="0.17"/>
<rect x="130.40" y="415.55" width="7.60" height="1.70" rx="0.85" fill="#111" fill-opacity="0.55"/>
<rect x="138.90" y="415.10" width="8.00" height="2.60" rx="1.30" fill="#111" fill-opacity="0.17"/>
<rect x="139.10" y="415.55" width="7.60" height="1.70" rx="0.85" fill="#111" fill-opacity="0.55"/>
<rect x="68.20" y="423.70" width="80.60" height="35.00" fill="#e8e8e8"/>
<rect x="69.30" y="440.65" width="8.00" height="2.10" rx="1.05" fill="#111" fill-opacity="0.17"/>
<rect x="69.50" y="441.10" width="7.60" height="1.20" rx="0.60" fill="#111" fill-opacity="0.55"/>
<rect x="69.30" y="443.20" width="8.00" height="2.20" rx="1.10" fill="#111" fill-opacity="0.18"/>
<rect x="69.50" y="443.65" width="7.60" height="1.30" rx="0.65" fill="#111" fill-opacity="0.61"/>
<rect x="69.55" y="436.70" width="7.50" height="1.80" rx="0.90" fill="#111" fill-opacity="0.05"/>
<rect x="69.75" y="437.15" width="7.10" height="0.90" rx="0.45" fill="#111" fill-opacity="0.17"/>
<rect x="69.55" y="433.15" width="7.50" height="1.70" rx="0.85" fill="#111" fill-opacity="0.02"/>
<rect x="69.75" y="433.60" width="7.10" height="0.80" rx="0.40" fill="#111" fill-opacity="0.07"/>
<rect x="78.00" y="440.65" width="8.00" height="2.10" rx="1.05" fill="#111" fill-opacity="0.17"/>
<rect x="78.20" y="441.10" width="7.60" height="1.20" rx="0.60" fill="#111" fill-opacity="0.55"/>
<rect x="78.00" y="443.20" width="8.00" height="2.20" rx="1.10" fill="#111" fill-opacity="0.18"/>
<rect x="78.20" y="443.65" width="7.60" height="1.30" rx="0.65" fill="#111" fill-opacity="0.61"/>
<rect x="78.25" y="436.70" width="7.50" height="1.80" rx="0.90" fill="#111" fill-opacity="0.05"/>
<rect x="78.45" y="437.15" width="7.10" height="0.90" rx="0.45" fill="#111" fill-opacity="0.17"/>
<rect x="78.25" y="433.15" width="7.50" height="1.70" rx="0.85" fill="#111" fill-opacity="0.02"/>
<rect x="78.45" y="433.60" width="7.10" height="0.80" rx="0.40" fill="#111" fill-opacity="0.07"/>
<rect x="86.70" y="440.65" width="8.00" height="2.10" rx="1.05" fill="#111" fill-opacity="0.17"/>
<rect x="86.90" y="441.10" width="7.60" height="1.20" rx="0.60" fill="#111" fill-opacity="0.55"/>
<rect x="86.70" y="443.20" width="8.00" height="2.20" rx="1.10" fill="#111" fill-opacity="0.18"/>
<rect x="86.90" y="443.65" width="7.60" height="1.30" rx="0.65" fill="#111" fill-opacity="0.61"/>
<rect x="86.95" y="436.70" width="7.50" height="1.80" rx="0.90" fill="#111" fill-opacity="0.05"/>
<rect x="87.15" y="437.15" width="7.10" height="0.90" rx="0.45" fill="#111" fill-opacity="0.17"/>
<rect x="86.95" y="433.15" width="7.50" height="1.70" rx="0.85" fill="#111" fill-opacity="0.02"/>
<rect x="87.15" y="433.60" width="7.10" height="0.80" rx="0.40" fill="#111" fill-opacity="0.07"/>
<rect x="95.40" y="440.65" width="8.00" height="2.10" rx="1.05" fill="#111" fill-opacity="0.18"/>
<rect x="95.60" y="441.10" width="7.60" height="1.20" rx="0.60" fill="#111" fill-opacity="0.60"/>
<rect x="95.40" y="443.20" width="8.00" height="2.20" rx="1.10" fill="#111" fill-opacity="0.20"/>
<rect x="95.60" y="443.65" width="7.60" height="1.30" rx="0.65" fill="#111" fill-opacity="0.66"/>
<rect x="95.65" y="436.70" width="7.50" height="1.80" rx="0.90" fill="#111" fill-opacity="0.05"/>
<rect x="95.85" y="437.15" width="7.10" height="0.90" rx="0.45" fill="#111" fill-opacity="0.18"/>
<rect x="95.65" y="433.15" width="7.50" height="1.70" rx="0.85" fill="#111" fill-opacity="0.02"/>
<rect x="95.85" y="433.60" width="7.10" height="0.80" rx="0.40" fill="#111" fill-opacity="0.07"/>
<rect x="104.10" y="440.65" width="8.00" height="2.10" rx="1.05" fill="#111" fill-opacity="0.18"/>
<rect x="104.30" y="441.10" width="7.60" height="1.20" rx="0.60" fill="#111" fill-opacity="0.60"/>
<rect x="104.10" y="443.20" width="8.00" height="2.20" rx="1.10" fill="#111" fill-opacity="0.20"/>
<rect x="104.30" y="443.65" width="7.60" height="1.30" rx="0.65" fill="#111" fill-opacity="0.66"/>
<rect x="104.35" y="436.70" width="7.50" height="1.80" rx="0.90" fill="#111" fill-opacity="0.05"/>
<rect x="104.55" y="437.15" width="7.10" height="0.90" rx="0.45" fill="#111" fill-opacity="0.18"/>
<rect x="104.35" y="433.15" width="7.50" height="1.70" rx="0.85" fill="#111" fill-opacity="0.02"/>
<rect x="104.55" y="433.60" width="7.10" height="0.80" rx="0.40" fill="#111" fill-opacity="0.07"/>
<rect x="112.80" y="440.65" width="8.00" height="2.10" rx="1.05" fill="#111" fill-opacity="0.21"/>
<rect x="113.00" y="441.10" width="7.60" height="1.20" rx="0.60" fill="#111" fill-opacity="0.70"/>
<rect x="112.80" y="443.20" width="8.00" height="2.20" rx="1.10" fill="#111" fill-opacity="0.23"/>
<rect x="113.00" y="443.65" width="7.60" height="1.30" rx="0.65" fill="#111" fill-opacity="0.77"/>
<rect x="113.05" y="436.70" width="7.50" height="1.80" rx="0.90" fill="#111" fill-opacity="0.06"/>
<rect x="113.25" y="437.15" width="7.10" height="0.90" rx="0.45" fill="#111" fill-opacity="0.21"/>
<rect x="113.05" y="433.15" width="7.50" height="1.70" rx="0.85" fill="#111" fill-opacity="0.03"/>
<rect x="113.25" y="433.60" width="7.10" height="0.80" rx="0.40" fill="#111" fill-opacity="0.08"/>
<rect x="121.50" y="440.65" width="8.00" height="2.10" rx="1.05" fill="#111" fill-opacity="0.18"/>
<rect x="121.70" y="441.10" width="7.60" height="1.20" rx="0.60" fill="#111" fill-opacity="0.60"/>
<rect x="121.50" y="443.20" width="8.00" height="2.20" rx="1.10" fill="#111" fill-opacity="0.20"/>
<rect x="121.70" y="443.65" width="7.60" height="1.30" rx="0.65" fill="#111" fill-opacity="0.66"/>
<rect x="121.75" y="436.70" width="7.50" height="1.80" rx="0.90" fill="#111" fill-opacity="0.05"/>
<rect x="121.95" y="437.15" width="7.10" height="0.90" rx="0.45" fill="#111" fill-opacity="0.18"/>
<rect x="121.75" y="433.15" width="7.50" height="1.70" rx="0.85" fill="#111" fill-opacity="0.02"/>
<rect x="121.95" y="433.60" width="7.10" height="0.80" rx="0.40" fill="#111" fill-opacity="0.07"/>
<rect x="130.20" y="440.65" width="8.00" height="2.10" rx="1.05" fill="#111" fill-opacity="0.18"/>
<rect x="130.40" y="441.10" width="7.60" height="1.20" rx="0.60" fill="#111" fill-opacity="0.60"/>
<rect x="130.20" y="443.20" width="8.00" height="2.20" rx="1.10" fill="#111" fill-opacity="0.20"/>
<rect x="130.40" y="443.65" width="7.60" height="1.30" rx="0.65" fill="#111" fill-opacity="0.66"/>
<rect x="130.45" y="436.70" width="7.50" height="1.80" rx="0.90" fill="#111" fill-opacity="0.05"/>
<rect x="130.65" y="437.15" width="7.10" height="0.90" rx="0.45" fill="#111" fill-opacity="0.18"/>
<rect x="130.45" y="433.15" width="7.50" height="1.70" rx="0.85" fill="#111" fill-opacity="0.02"/>
<rect x="130.65" y="433.60" width="7.10" height="0.80" rx="0.40" fill="#111" fill-opacity="0.07"/>
<rect x="138.90" y="440.65" width="8.00" height="2.10" rx="1.05" fill="#111" fill-opacity="0.17"/>
<rect x="139.10" y="441.10" width="7.60" height="1.20" rx="0.60" fill="#111" fill-opacity="0.55"/>
<rect x="138.90" y="443.20" width="8.00" height="2.20" rx="1.10" fill="#111" fill-opacity="0.18"/>
<rect x="139.10" y="443.65" width="7.60" height="1.30" rx="0.65" fill="#111" fill-opacity="0.61"/>
<rect x="139.15" y="436.70" width="7.50" height="1.80" rx="0.90" fill="#111" fill-opacity="0.05"/>
<rect x="139.35" y="437.15" width="7.10" height="0.90" rx="0.45" fill="#111" fill-opacity="0.17"/>
<rect x="139.15" y="433.15" width="7.50" height="1.70" rx="0.85" fill="#111" fill-opacity="0.02"/>
<rect x="139.35" y="433.60" width="7.10" height="0.80" rx="0.40" fill="#111" fill-opacity="0.07"/>
<rect x="68.20" y="462.40" width="80.60" height="8.80" fill="#e6e6e6"/>
<rect x="69.30" y="465.25" width="8.00" height="2.70" rx="1.35" fill="#111" fill-opacity="0.26"/>
<rect x="69.50" y="465.70" width="7.60" height="1.80" rx="0.90" fill="#111" fill-opacity="0.85"/>
<rect x="78.00" y="465.25" width="8.00" height="2.70" rx="1.35" fill="#111" fill-opacity="0.22"/>
<rect x="78.20" y="465.70" width="7.60" height="1.80" rx="0.90" fill="#111" fill-opacity="0.75"/>
<rect x="86.70" y="465.25" width="8.00" height="2.70" rx="1.35" fill="#111" fill-opacity="0.21"/>
<rect x="86.90" y="465.70" width="7.60" height="1.80" rx="0.90" fill="#111" fill-opacity="0.70"/>
<rect x="95.40" y="465.25" width="8.00" height="2.70" rx="1.35" fill="#111" fill-opacity="0.18"/>
<rect x="95.60" y="465.70" width="7.60" height="1.80" rx="0.90" fill="#111" fill-opacity="0.60"/>
<rect x="104.10" y="465.25" width="8.00" height="2.70" rx="1.35" fill="#111" fill-opacity="0.17"/>
<rect x="104.30" y="465.70" width="7.60" height="1.80" rx="0.90" fill="#111" fill-opacity="0.55"/>
<rect x="112.80" y="465.25" width="8.00" height="2.70" rx="1.35" fill="#111" fill-opacity="0.20"/>
<rect x="113.00" y="465.70" width="7.60" height="1.80" rx="0.90" fill="#111" fill-opacity="0.65"/>
<rect x="121.50" y="465.25" width="8.00" height="2.70" rx="1.35" fill="#111" fill-opacity="0.15"/>
<rect x="121.70" y="465.70" width="7.60" height="1.80" rx="0.90" fill="#111" fill-opacity="0.50"/>
<rect x="130.20" y="465.25" width="8.00" height="2.70" rx="1.35" fill="#111" fill-opacity="0.15"/>
<rect x="130.40" y="465.70" width="7.60" height="1.80" rx="0.90" fill="#111" fill-opacity="0.50"/>
<rect x="138.90" y="465.25" width="8.00" height="2.70" rx="1.35" fill="#111" fill-opacity="0.15"/>
<rect x="139.10" y="465.70" width="7.60" height="1.80" rx="0.90" fill="#111" fill-opacity="0.50"/>
<text x="66.30" y="357.90" font-size="6.6" class="sm" text-anchor="end" textLength="7.00" lengthAdjust="spacingAndGlyphs">20</text>
<text x="66.30" y="365.30" font-size="6.6" class="sm" text-anchor="end" textLength="7.00" lengthAdjust="spacingAndGlyphs">15</text>
<text x="66.30" y="384.80" font-size="6.6" class="sm" text-anchor="end" textLength="7.00" lengthAdjust="spacingAndGlyphs">75</text>
<text x="66.30" y="399.80" font-size="6.6" class="sm" text-anchor="end" textLength="7.00" lengthAdjust="spacingAndGlyphs">25</text>
<text x="66.30" y="430.30" font-size="6.6" class="sm" text-anchor="end" textLength="7.00" lengthAdjust="spacingAndGlyphs">75</text>
<text x="66.30" y="445.30" font-size="6.6" class="sm" text-anchor="end" textLength="7.00" lengthAdjust="spacingAndGlyphs">25</text>
<text x="151.20" y="359.20" font-size="6.6" class="sm" textLength="31.30" lengthAdjust="spacingAndGlyphs">H4R3me2s</text>
<text x="151.20" y="374.00" font-size="6.6" class="sm" textLength="20.50" lengthAdjust="spacingAndGlyphs">β-actin</text>
<text x="151.20" y="395.30" font-size="6.6" class="sm" textLength="18.50" lengthAdjust="spacingAndGlyphs">SDMA</text>
<text x="151.20" y="419.30" font-size="6.6" class="sm" textLength="20.50" lengthAdjust="spacingAndGlyphs">β-actin</text>
<text x="151.20" y="444.00" font-size="6.6" class="sm" textLength="18.50" lengthAdjust="spacingAndGlyphs">ADMA</text>
<text x="151.20" y="468.80" font-size="6.6" class="sm" textLength="20.50" lengthAdjust="spacingAndGlyphs">β-actin</text>
<text x="312.90" y="335.70" font-size="7.0" text-anchor="middle" textLength="52.80" lengthAdjust="spacingAndGlyphs">Z-138 150 nM</text>
<line x1="275.30" y1="340.20" x2="343.60" y2="340.20" stroke="#444" stroke-width="0.8"/>
<text x="402.40" y="335.50" font-size="7.0" text-anchor="middle" textLength="57.00" lengthAdjust="spacingAndGlyphs">Jeko-1 350 nM</text>
<line x1="358.90" y1="340.50" x2="440.20" y2="340.50" stroke="#444" stroke-width="0.8"/>
<text x="267.20" y="359.20" font-size="5.6" class="sm" textLength="3.00" lengthAdjust="spacingAndGlyphs" transform="rotate(-90 267.20 359.20)">0</text>
<text x="363.60" y="359.60" font-size="5.6" class="sm" textLength="3.00" lengthAdjust="spacingAndGlyphs" transform="rotate(-90 363.60 359.60)">0</text>
<text x="279.10" y="359.20" font-size="5.6" class="sm" textLength="9.00" lengthAdjust="spacingAndGlyphs" transform="rotate(-90 279.10 359.20)">3 hr</text>
<text x="375.52" y="359.60" font-size="5.6" class="sm" textLength="9.00" lengthAdjust="spacingAndGlyphs" transform="rotate(-90 375.52 359.60)">3 hr</text>
<text x="291.00" y="359.20" font-size="5.6" class="sm" textLength="14.00" lengthAdjust="spacingAndGlyphs" transform="rotate(-90 291.00 359.20)">1 day</text>
<text x="387.44" y="359.60" font-size="5.6" class="sm" textLength="14.00" lengthAdjust="spacingAndGlyphs" transform="rotate(-90 387.44 359.60)">1 day</text>
<text x="302.90" y="359.20" font-size="5.6" class="sm" textLength="14.00" lengthAdjust="spacingAndGlyphs" transform="rotate(-90 302.90 359.20)">2 day</text>
<text x="399.36" y="359.60" font-size="5.6" class="sm" textLength="14.00" lengthAdjust="spacingAndGlyphs" transform="rotate(-90 399.36 359.60)">2 day</text>
<text x="314.80" y="359.20" font-size="5.6" class="sm" textLength="14.00" lengthAdjust="spacingAndGlyphs" transform="rotate(-90 314.80 359.20)">4 day</text>
<text x="411.28" y="359.60" font-size="5.6" class="sm" textLength="14.00" lengthAdjust="spacingAndGlyphs" transform="rotate(-90 411.28 359.60)">4 day</text>
<text x="326.70" y="359.20" font-size="5.6" class="sm" textLength="14.00" lengthAdjust="spacingAndGlyphs" transform="rotate(-90 326.70 359.20)">6 day</text>
<text x="423.20" y="359.60" font-size="5.6" class="sm" textLength="14.00" lengthAdjust="spacingAndGlyphs" transform="rotate(-90 423.20 359.60)">6 day</text>
<text x="338.60" y="359.20" font-size="5.6" class="sm" textLength="14.00" lengthAdjust="spacingAndGlyphs" transform="rotate(-90 338.60 359.20)">8 day</text>
<text x="435.12" y="359.60" font-size="5.6" class="sm" textLength="14.00" lengthAdjust="spacingAndGlyphs" transform="rotate(-90 435.12 359.60)">8 day</text>
<rect x="259.00" y="363.20" width="85.60" height="34.20" fill="#e3e3e3"/>
<rect x="261.10" y="367.60" width="9.00" height="2.20" rx="1.10" fill="#111" fill-opacity="0.26"/>
<rect x="261.30" y="368.05" width="8.60" height="1.30" rx="0.65" fill="#111" fill-opacity="0.85"/>
<rect x="261.40" y="371.8" width="8.4" height="7.6" rx="1.5" fill="#333" fill-opacity="0.42" filter="url(#bl2)"/>
<rect x="261.60" y="372.55" width="8.00" height="1.90" rx="0.95" fill="#111" fill-opacity="0.06"/>
<rect x="261.80" y="373.00" width="7.60" height="1.00" rx="0.50" fill="#111" fill-opacity="0.20"/>
<rect x="261.60" y="375.05" width="8.00" height="1.90" rx="0.95" fill="#111" fill-opacity="0.07"/>
<rect x="261.80" y="375.50" width="7.60" height="1.00" rx="0.50" fill="#111" fill-opacity="0.25"/>
<rect x="261.60" y="377.35" width="8.00" height="1.90" rx="0.95" fill="#111" fill-opacity="0.06"/>
<rect x="261.80" y="377.80" width="7.60" height="1.00" rx="0.50" fill="#111" fill-opacity="0.20"/>
<rect x="261.10" y="379.35" width="9.00" height="2.30" rx="1.15" fill="#111" fill-opacity="0.22"/>
<rect x="261.30" y="379.80" width="8.60" height="1.40" rx="0.70" fill="#111" fill-opacity="0.75"/>
<rect x="260.70" y="382.35" width="9.80" height="3.90" rx="1.95" fill="#111" fill-opacity="0.30"/>
<rect x="260.90" y="382.80" width="9.40" height="3.00" rx="1.50" fill="#111" fill-opacity="1.00"/>
<rect x="261.20" y="389.05" width="8.80" height="1.90" rx="0.95" fill="#111" fill-opacity="0.15"/>
<rect x="261.40" y="389.50" width="8.40" height="1.00" rx="0.50" fill="#111" fill-opacity="0.50"/>
<rect x="260.70" y="392.15" width="9.80" height="3.30" rx="1.65" fill="#111" fill-opacity="0.30"/>
<rect x="260.90" y="392.60" width="9.40" height="2.40" rx="1.20" fill="#111" fill-opacity="1.00"/>
<rect x="272.90" y="367.60" width="9.00" height="2.20" rx="1.10" fill="#111" fill-opacity="0.26"/>
<rect x="273.10" y="368.05" width="8.60" height="1.30" rx="0.65" fill="#111" fill-opacity="0.85"/>
<rect x="273.20" y="371.8" width="8.4" height="7.6" rx="1.5" fill="#333" fill-opacity="0.42" filter="url(#bl2)"/>
<rect x="273.40" y="372.55" width="8.00" height="1.90" rx="0.95" fill="#111" fill-opacity="0.06"/>
<rect x="273.60" y="373.00" width="7.60" height="1.00" rx="0.50" fill="#111" fill-opacity="0.20"/>
<rect x="273.40" y="375.05" width="8.00" height="1.90" rx="0.95" fill="#111" fill-opacity="0.07"/>
<rect x="273.60" y="375.50" width="7.60" height="1.00" rx="0.50" fill="#111" fill-opacity="0.25"/>
<rect x="273.40" y="377.35" width="8.00" height="1.90" rx="0.95" fill="#111" fill-opacity="0.06"/>
<rect x="273.60" y="377.80" width="7.60" height="1.00" rx="0.50" fill="#111" fill-opacity="0.20"/>
<rect x="272.90" y="379.35" width="9.00" height="2.30" rx="1.15" fill="#111" fill-opacity="0.22"/>
<rect x="273.10" y="379.80" width="8.60" height="1.40" rx="0.70" fill="#111" fill-opacity="0.75"/>
<rect x="272.50" y="382.35" width="9.80" height="3.90" rx="1.95" fill="#111" fill-opacity="0.30"/>
<rect x="272.70" y="382.80" width="9.40" height="3.00" rx="1.50" fill="#111" fill-opacity="1.00"/>
<rect x="273.00" y="389.05" width="8.80" height="1.90" rx="0.95" fill="#111" fill-opacity="0.15"/>
<rect x="273.20" y="389.50" width="8.40" height="1.00" rx="0.50" fill="#111" fill-opacity="0.50"/>
<rect x="272.50" y="392.15" width="9.80" height="3.30" rx="1.65" fill="#111" fill-opacity="0.30"/>
<rect x="272.70" y="392.60" width="9.40" height="2.40" rx="1.20" fill="#111" fill-opacity="1.00"/>
<rect x="284.80" y="379.90" width="8.80" height="2.20" rx="1.10" fill="#111" fill-opacity="0.26"/>
<rect x="285.00" y="380.35" width="8.40" height="1.30" rx="0.65" fill="#111" fill-opacity="0.85"/>
<rect x="284.80" y="382.95" width="8.80" height="2.70" rx="1.35" fill="#111" fill-opacity="0.28"/>
<rect x="285.00" y="383.40" width="8.40" height="1.80" rx="0.90" fill="#111" fill-opacity="0.95"/>
<rect x="284.80" y="392.60" width="8.80" height="2.40" rx="1.20" fill="#111" fill-opacity="0.22"/>
<rect x="285.00" y="393.05" width="8.40" height="1.50" rx="0.75" fill="#111" fill-opacity="0.75"/>
<rect x="296.60" y="379.90" width="8.80" height="2.20" rx="1.10" fill="#111" fill-opacity="0.18"/>
<rect x="296.80" y="380.35" width="8.40" height="1.30" rx="0.65" fill="#111" fill-opacity="0.60"/>
<rect x="296.60" y="382.95" width="8.80" height="2.70" rx="1.35" fill="#111" fill-opacity="0.22"/>
<rect x="296.80" y="383.40" width="8.40" height="1.80" rx="0.90" fill="#111" fill-opacity="0.75"/>
<rect x="296.60" y="392.60" width="8.80" height="2.40" rx="1.20" fill="#111" fill-opacity="0.09"/>
<rect x="296.80" y="393.05" width="8.40" height="1.50" rx="0.75" fill="#111" fill-opacity="0.30"/>
<rect x="308.40" y="379.90" width="8.80" height="2.20" rx="1.10" fill="#111" fill-opacity="0.09"/>
<rect x="308.60" y="380.35" width="8.40" height="1.30" rx="0.65" fill="#111" fill-opacity="0.30"/>
<rect x="308.40" y="382.95" width="8.80" height="2.70" rx="1.35" fill="#111" fill-opacity="0.15"/>
<rect x="308.60" y="383.40" width="8.40" height="1.80" rx="0.90" fill="#111" fill-opacity="0.50"/>
<rect x="308.40" y="392.60" width="8.80" height="2.40" rx="1.20" fill="#111" fill-opacity="0.04"/>
<rect x="308.60" y="393.05" width="8.40" height="1.50" rx="0.75" fill="#111" fill-opacity="0.12"/>
<rect x="320.20" y="379.90" width="8.80" height="2.20" rx="1.10" fill="#111" fill-opacity="0.09"/>
<rect x="320.40" y="380.35" width="8.40" height="1.30" rx="0.65" fill="#111" fill-opacity="0.30"/>
<rect x="320.20" y="382.95" width="8.80" height="2.70" rx="1.35" fill="#111" fill-opacity="0.14"/>
<rect x="320.40" y="383.40" width="8.40" height="1.80" rx="0.90" fill="#111" fill-opacity="0.45"/>
<rect x="332.00" y="379.90" width="8.80" height="2.20" rx="1.10" fill="#111" fill-opacity="0.10"/>
<rect x="332.20" y="380.35" width="8.40" height="1.30" rx="0.65" fill="#111" fill-opacity="0.35"/>
<rect x="332.00" y="382.95" width="8.80" height="2.70" rx="1.35" fill="#111" fill-opacity="0.14"/>
<rect x="332.20" y="383.40" width="8.40" height="1.80" rx="0.90" fill="#111" fill-opacity="0.45"/>
<rect x="259.00" y="400.20" width="85.60" height="5.40" fill="#e3e3e3"/>
<rect x="261.10" y="401.75" width="9.00" height="2.30" rx="1.15" fill="#111" fill-opacity="0.21"/>
<rect x="261.30" y="402.20" width="8.60" height="1.40" rx="0.70" fill="#111" fill-opacity="0.70"/>
<rect x="272.90" y="401.75" width="9.00" height="2.30" rx="1.15" fill="#111" fill-opacity="0.21"/>
<rect x="273.10" y="402.20" width="8.60" height="1.40" rx="0.70" fill="#111" fill-opacity="0.70"/>
<rect x="284.70" y="401.75" width="9.00" height="2.30" rx="1.15" fill="#111" fill-opacity="0.21"/>
<rect x="284.90" y="402.20" width="8.60" height="1.40" rx="0.70" fill="#111" fill-opacity="0.70"/>
<rect x="296.50" y="401.75" width="9.00" height="2.30" rx="1.15" fill="#111" fill-opacity="0.21"/>
<rect x="296.70" y="402.20" width="8.60" height="1.40" rx="0.70" fill="#111" fill-opacity="0.70"/>
<rect x="308.30" y="401.75" width="9.00" height="2.30" rx="1.15" fill="#111" fill-opacity="0.21"/>
<rect x="308.50" y="402.20" width="8.60" height="1.40" rx="0.70" fill="#111" fill-opacity="0.70"/>
<rect x="320.10" y="401.75" width="9.00" height="2.30" rx="1.15" fill="#111" fill-opacity="0.21"/>
<rect x="320.30" y="402.20" width="8.60" height="1.40" rx="0.70" fill="#111" fill-opacity="0.70"/>
<rect x="331.90" y="401.75" width="9.00" height="2.30" rx="1.15" fill="#111" fill-opacity="0.21"/>
<rect x="332.10" y="402.20" width="8.60" height="1.40" rx="0.70" fill="#111" fill-opacity="0.70"/>
<rect x="355.50" y="363.40" width="86.00" height="33.60" fill="#e3e3e3"/>
<rect x="356.50" y="364.45" width="9.40" height="1.90" rx="0.95" fill="#111" fill-opacity="0.18"/>
<rect x="356.70" y="364.90" width="9.00" height="1.00" rx="0.50" fill="#111" fill-opacity="0.60"/>
<rect x="356.50" y="367.30" width="9.40" height="2.20" rx="1.10" fill="#111" fill-opacity="0.26"/>
<rect x="356.70" y="367.75" width="9.00" height="1.30" rx="0.65" fill="#111" fill-opacity="0.85"/>
<rect x="356.50" y="371.35" width="9.40" height="1.90" rx="0.95" fill="#111" fill-opacity="0.18"/>
<rect x="356.70" y="371.80" width="9.00" height="1.00" rx="0.50" fill="#111" fill-opacity="0.60"/>
<rect x="356.50" y="373.65" width="9.40" height="1.90" rx="0.95" fill="#111" fill-opacity="0.18"/>
<rect x="356.70" y="374.10" width="9.00" height="1.00" rx="0.50" fill="#111" fill-opacity="0.60"/>
<rect x="356.50" y="379.35" width="9.40" height="2.50" rx="1.25" fill="#111" fill-opacity="0.26"/>
<rect x="356.70" y="379.80" width="9.00" height="1.60" rx="0.80" fill="#111" fill-opacity="0.85"/>
<rect x="356.50" y="383.25" width="9.40" height="3.90" rx="1.95" fill="#111" fill-opacity="0.30"/>
<rect x="356.70" y="383.70" width="9.00" height="3.00" rx="1.50" fill="#111" fill-opacity="1.00"/>
<rect x="356.50" y="388.15" width="9.40" height="1.70" rx="0.85" fill="#111" fill-opacity="0.12"/>
<rect x="356.70" y="388.60" width="9.00" height="0.80" rx="0.40" fill="#111" fill-opacity="0.40"/>
<rect x="356.50" y="391.55" width="9.40" height="2.10" rx="1.05" fill="#111" fill-opacity="0.18"/>
<rect x="356.70" y="392.00" width="9.00" height="1.20" rx="0.60" fill="#111" fill-opacity="0.60"/>
<rect x="356.50" y="393.15" width="9.40" height="3.30" rx="1.65" fill="#111" fill-opacity="0.30"/>
<rect x="356.70" y="393.60" width="9.00" height="2.40" rx="1.20" fill="#111" fill-opacity="1.00"/>
<rect x="368.90" y="364.45" width="9.40" height="1.90" rx="0.95" fill="#111" fill-opacity="0.18"/>
<rect x="369.10" y="364.90" width="9.00" height="1.00" rx="0.50" fill="#111" fill-opacity="0.60"/>
<rect x="368.90" y="367.30" width="9.40" height="2.20" rx="1.10" fill="#111" fill-opacity="0.26"/>
<rect x="369.10" y="367.75" width="9.00" height="1.30" rx="0.65" fill="#111" fill-opacity="0.85"/>
<rect x="368.90" y="371.35" width="9.40" height="1.90" rx="0.95" fill="#111" fill-opacity="0.18"/>
<rect x="369.10" y="371.80" width="9.00" height="1.00" rx="0.50" fill="#111" fill-opacity="0.60"/>
<rect x="368.90" y="373.65" width="9.40" height="1.90" rx="0.95" fill="#111" fill-opacity="0.18"/>
<rect x="369.10" y="374.10" width="9.00" height="1.00" rx="0.50" fill="#111" fill-opacity="0.60"/>
<rect x="368.90" y="379.35" width="9.40" height="2.50" rx="1.25" fill="#111" fill-opacity="0.26"/>
<rect x="369.10" y="379.80" width="9.00" height="1.60" rx="0.80" fill="#111" fill-opacity="0.85"/>
<rect x="368.90" y="383.25" width="9.40" height="3.90" rx="1.95" fill="#111" fill-opacity="0.30"/>
<rect x="369.10" y="383.70" width="9.00" height="3.00" rx="1.50" fill="#111" fill-opacity="1.00"/>
<rect x="368.90" y="388.15" width="9.40" height="1.70" rx="0.85" fill="#111" fill-opacity="0.12"/>
<rect x="369.10" y="388.60" width="9.00" height="0.80" rx="0.40" fill="#111" fill-opacity="0.40"/>
<rect x="368.90" y="391.55" width="9.40" height="2.10" rx="1.05" fill="#111" fill-opacity="0.18"/>
<rect x="369.10" y="392.00" width="9.00" height="1.20" rx="0.60" fill="#111" fill-opacity="0.60"/>
<rect x="368.90" y="393.15" width="9.40" height="3.30" rx="1.65" fill="#111" fill-opacity="0.30"/>
<rect x="369.10" y="393.60" width="9.00" height="2.40" rx="1.20" fill="#111" fill-opacity="1.00"/>
<rect x="381.50" y="379.40" width="9.00" height="2.40" rx="1.20" fill="#111" fill-opacity="0.27"/>
<rect x="381.70" y="379.85" width="8.60" height="1.50" rx="0.75" fill="#111" fill-opacity="0.90"/>
<rect x="381.50" y="383.15" width="9.00" height="2.90" rx="1.45" fill="#111" fill-opacity="0.28"/>
<rect x="381.70" y="383.60" width="8.60" height="2.00" rx="1.00" fill="#111" fill-opacity="0.95"/>
<rect x="381.50" y="393.15" width="9.00" height="2.70" rx="1.35" fill="#111" fill-opacity="0.26"/>
<rect x="381.70" y="393.60" width="8.60" height="1.80" rx="0.90" fill="#111" fill-opacity="0.85"/>
<rect x="393.90" y="379.40" width="9.00" height="2.40" rx="1.20" fill="#111" fill-opacity="0.18"/>
<rect x="394.10" y="379.85" width="8.60" height="1.50" rx="0.75" fill="#111" fill-opacity="0.60"/>
<rect x="393.90" y="383.15" width="9.00" height="2.90" rx="1.45" fill="#111" fill-opacity="0.24"/>
<rect x="394.10" y="383.60" width="8.60" height="2.00" rx="1.00" fill="#111" fill-opacity="0.80"/>
<rect x="393.90" y="393.15" width="9.00" height="2.70" rx="1.35" fill="#111" fill-opacity="0.14"/>
<rect x="394.10" y="393.60" width="8.60" height="1.80" rx="0.90" fill="#111" fill-opacity="0.45"/>
<rect x="406.30" y="379.40" width="9.00" height="2.40" rx="1.20" fill="#111" fill-opacity="0.10"/>
<rect x="406.50" y="379.85" width="8.60" height="1.50" rx="0.75" fill="#111" fill-opacity="0.35"/>
<rect x="406.30" y="383.15" width="9.00" height="2.90" rx="1.45" fill="#111" fill-opacity="0.21"/>
<rect x="406.50" y="383.60" width="8.60" height="2.00" rx="1.00" fill="#111" fill-opacity="0.70"/>
<rect x="406.30" y="393.15" width="9.00" height="2.70" rx="1.35" fill="#111" fill-opacity="0.10"/>
<rect x="406.50" y="393.60" width="8.60" height="1.80" rx="0.90" fill="#111" fill-opacity="0.35"/>
<rect x="418.70" y="379.40" width="9.00" height="2.40" rx="1.20" fill="#111" fill-opacity="0.09"/>
<rect x="418.90" y="379.85" width="8.60" height="1.50" rx="0.75" fill="#111" fill-opacity="0.30"/>
<rect x="418.70" y="383.15" width="9.00" height="2.90" rx="1.45" fill="#111" fill-opacity="0.18"/>
<rect x="418.90" y="383.60" width="8.60" height="2.00" rx="1.00" fill="#111" fill-opacity="0.60"/>
<rect x="431.10" y="379.40" width="9.00" height="2.40" rx="1.20" fill="#111" fill-opacity="0.14"/>
<rect x="431.30" y="379.85" width="8.60" height="1.50" rx="0.75" fill="#111" fill-opacity="0.45"/>
<rect x="431.10" y="383.15" width="9.00" height="2.90" rx="1.45" fill="#111" fill-opacity="0.15"/>
<rect x="431.30" y="383.60" width="8.60" height="2.00" rx="1.00" fill="#111" fill-opacity="0.50"/>
<rect x="355.50" y="398.80" width="86.00" height="6.60" fill="#e3e3e3"/>
<rect x="356.60" y="400.65" width="9.20" height="2.50" rx="1.25" fill="#111" fill-opacity="0.22"/>
<rect x="356.80" y="401.10" width="8.80" height="1.60" rx="0.80" fill="#111" fill-opacity="0.75"/>
<rect x="369.00" y="400.65" width="9.20" height="2.50" rx="1.25" fill="#111" fill-opacity="0.22"/>
<rect x="369.20" y="401.10" width="8.80" height="1.60" rx="0.80" fill="#111" fill-opacity="0.75"/>
<rect x="381.40" y="400.65" width="9.20" height="2.50" rx="1.25" fill="#111" fill-opacity="0.22"/>
<rect x="381.60" y="401.10" width="8.80" height="1.60" rx="0.80" fill="#111" fill-opacity="0.75"/>
<rect x="393.80" y="400.65" width="9.20" height="2.50" rx="1.25" fill="#111" fill-opacity="0.22"/>
<rect x="394.00" y="401.10" width="8.80" height="1.60" rx="0.80" fill="#111" fill-opacity="0.75"/>
<rect x="406.20" y="400.65" width="9.20" height="2.50" rx="1.25" fill="#111" fill-opacity="0.22"/>
<rect x="406.40" y="401.10" width="8.80" height="1.60" rx="0.80" fill="#111" fill-opacity="0.75"/>
<rect x="418.60" y="400.65" width="9.20" height="2.50" rx="1.25" fill="#111" fill-opacity="0.22"/>
<rect x="418.80" y="401.10" width="8.80" height="1.60" rx="0.80" fill="#111" fill-opacity="0.75"/>
<rect x="431.00" y="400.65" width="9.20" height="2.50" rx="1.25" fill="#111" fill-opacity="0.22"/>
<rect x="431.20" y="401.10" width="8.80" height="1.60" rx="0.80" fill="#111" fill-opacity="0.75"/>
<text x="255.80" y="367.40" font-size="6.6" class="sm" text-anchor="end" textLength="6.80" lengthAdjust="spacingAndGlyphs">75</text>
<text x="255.80" y="381.50" font-size="6.6" class="sm" text-anchor="end" textLength="6.80" lengthAdjust="spacingAndGlyphs">25</text>
<text x="444.80" y="389.00" font-size="6.6" class="sm" textLength="18.50" lengthAdjust="spacingAndGlyphs">SDMA</text>
<text x="444.80" y="403.60" font-size="6.6" class="sm" textLength="26.00" lengthAdjust="spacingAndGlyphs">α-Tubulin</text>
<text x="338.80" y="416.20" font-size="8.4" text-anchor="middle" textLength="25.50" lengthAdjust="spacingAndGlyphs">SDMA</text>
<line x1="299.40" y1="455.55" x2="380.00" y2="455.55" stroke="#c8c8c8" stroke-width="0.7"/>
<polyline points="305.90,435.10 316.70,437.14 327.50,450.64 338.30,455.55 349.10,459.64 359.90,461.69 370.70,462.50" fill="none" stroke="#f08a24" stroke-width="0.8" stroke-linejoin="round"/>
<polyline points="305.90,435.10 316.70,438.37 327.50,451.46 338.30,461.69 349.10,467.82 359.90,469.87 370.70,471.09" fill="none" stroke="#c8203c" stroke-width="0.8" stroke-linejoin="round"/>
<polyline points="305.90,435.10 316.70,433.06 327.50,456.78 338.30,469.05 349.10,470.68 359.90,471.09 370.70,471.91" fill="none" stroke="#3aa84a" stroke-width="0.8" stroke-linejoin="round"/>
<polyline points="305.90,435.10 316.70,439.19 327.50,452.28 338.30,467.82 349.10,467.82 359.90,467.82 370.70,467.82" fill="none" stroke="#1f4a8e" stroke-width="0.8" stroke-linejoin="round"/>
<circle cx="305.90" cy="435.10" r="1.3" fill="#f08a24"/>
<circle cx="316.70" cy="437.14" r="1.3" fill="#f08a24"/>
<circle cx="327.50" cy="450.64" r="1.3" fill="#f08a24"/>
<circle cx="338.30" cy="455.55" r="1.3" fill="#f08a24"/>
<circle cx="349.10" cy="459.64" r="1.3" fill="#f08a24"/>
<circle cx="359.90" cy="461.69" r="1.3" fill="#f08a24"/>
<circle cx="370.70" cy="462.50" r="1.3" fill="#f08a24"/>
<circle cx="305.90" cy="435.10" r="1.3" fill="#c8203c"/>
<circle cx="316.70" cy="438.37" r="1.3" fill="#c8203c"/>
<circle cx="327.50" cy="451.46" r="1.3" fill="#c8203c"/>
<circle cx="338.30" cy="461.69" r="1.3" fill="#c8203c"/>
<circle cx="349.10" cy="467.82" r="1.3" fill="#c8203c"/>
<circle cx="359.90" cy="469.87" r="1.3" fill="#c8203c"/>
<circle cx="370.70" cy="471.09" r="1.3" fill="#c8203c"/>
<circle cx="305.90" cy="435.10" r="1.3" fill="#3aa84a"/>
<circle cx="316.70" cy="433.06" r="1.3" fill="#3aa84a"/>
<circle cx="327.50" cy="456.78" r="1.3" fill="#3aa84a"/>
<circle cx="338.30" cy="469.05" r="1.3" fill="#3aa84a"/>
<circle cx="349.10" cy="470.68" r="1.3" fill="#3aa84a"/>
<circle cx="359.90" cy="471.09" r="1.3" fill="#3aa84a"/>
<circle cx="370.70" cy="471.91" r="1.3" fill="#3aa84a"/>
<circle cx="305.90" cy="435.10" r="1.3" fill="#1f4a8e"/>
<circle cx="316.70" cy="439.19" r="1.3" fill="#1f4a8e"/>
<circle cx="327.50" cy="452.28" r="1.3" fill="#1f4a8e"/>
<circle cx="338.30" cy="467.82" r="1.3" fill="#1f4a8e"/>
<circle cx="349.10" cy="467.82" r="1.3" fill="#1f4a8e"/>
<circle cx="359.90" cy="467.82" r="1.3" fill="#1f4a8e"/>
<circle cx="370.70" cy="467.82" r="1.3" fill="#1f4a8e"/>
<line x1="298.40" y1="422.30" x2="298.40" y2="476.60" stroke="#333" stroke-width="1.3"/>
<line x1="297.80" y1="476.00" x2="378.20" y2="476.00" stroke="#333" stroke-width="1.3"/>
<line x1="296.00" y1="435.10" x2="298.40" y2="435.10" stroke="#333" stroke-width="0.9"/>
<line x1="296.00" y1="445.32" x2="298.40" y2="445.32" stroke="#333" stroke-width="0.9"/>
<line x1="296.00" y1="455.55" x2="298.40" y2="455.55" stroke="#333" stroke-width="0.9"/>
<line x1="296.00" y1="465.77" x2="298.40" y2="465.77" stroke="#333" stroke-width="0.9"/>
<line x1="296.00" y1="476.00" x2="298.40" y2="476.00" stroke="#333" stroke-width="0.9"/>
<text x="293.20" y="437.50" font-size="6.8" text-anchor="end" textLength="9.00" lengthAdjust="spacingAndGlyphs">1.0</text>
<text x="293.20" y="457.95" font-size="6.8" text-anchor="end" textLength="9.00" lengthAdjust="spacingAndGlyphs">0.5</text>
<text x="293.20" y="478.40" font-size="6.8" text-anchor="end" textLength="9.00" lengthAdjust="spacingAndGlyphs">0.0</text>
<line x1="305.90" y1="476.00" x2="305.90" y2="478.00" stroke="#333" stroke-width="0.9"/>
<text x="309.90" y="484.60" font-size="7.0" text-anchor="end" textLength="3.60" lengthAdjust="spacingAndGlyphs" transform="rotate(-45 309.90 484.60)">0</text>
<line x1="316.70" y1="476.00" x2="316.70" y2="478.00" stroke="#333" stroke-width="0.9"/>
<text x="320.70" y="484.60" font-size="7.0" text-anchor="end" textLength="13.00" lengthAdjust="spacingAndGlyphs" transform="rotate(-45 320.70 484.60)">3 hrs</text>
<line x1="327.50" y1="476.00" x2="327.50" y2="478.00" stroke="#333" stroke-width="0.9"/>
<text x="331.50" y="484.60" font-size="7.0" text-anchor="end" textLength="13.50" lengthAdjust="spacingAndGlyphs" transform="rotate(-45 331.50 484.60)">1 day</text>
<line x1="338.30" y1="476.00" x2="338.30" y2="478.00" stroke="#333" stroke-width="0.9"/>
<text x="342.30" y="484.60" font-size="7.0" text-anchor="end" textLength="13.50" lengthAdjust="spacingAndGlyphs" transform="rotate(-45 342.30 484.60)">2 day</text>
<line x1="349.10" y1="476.00" x2="349.10" y2="478.00" stroke="#333" stroke-width="0.9"/>
<text x="353.10" y="484.60" font-size="7.0" text-anchor="end" textLength="13.50" lengthAdjust="spacingAndGlyphs" transform="rotate(-45 353.10 484.60)">4 day</text>
<line x1="359.90" y1="476.00" x2="359.90" y2="478.00" stroke="#333" stroke-width="0.9"/>
<text x="363.90" y="484.60" font-size="7.0" text-anchor="end" textLength="13.50" lengthAdjust="spacingAndGlyphs" transform="rotate(-45 363.90 484.60)">6 day</text>
<line x1="370.70" y1="476.00" x2="370.70" y2="478.00" stroke="#333" stroke-width="0.9"/>
<text x="374.70" y="484.60" font-size="7.0" text-anchor="end" textLength="13.50" lengthAdjust="spacingAndGlyphs" transform="rotate(-45 374.70 484.60)">8 day</text>
<text x="269.20" y="448.50" font-size="7.6" text-anchor="middle" textLength="34.30" lengthAdjust="spacingAndGlyphs" transform="rotate(-90 269.20 448.50)">Normalized</text>
<text x="279.20" y="449.10" font-size="7.6" text-anchor="middle" textLength="54.40" lengthAdjust="spacingAndGlyphs" transform="rotate(-90 279.20 449.10)">protein expression</text>
<line x1="380.70" y1="434.50" x2="390.80" y2="434.50" stroke="#1f4a8e" stroke-width="0.8"/>
<circle cx="385.40" cy="434.50" r="1.5" fill="#1f4a8e"/>
<text x="393.20" y="436.70" font-size="6.2" class="sm" textLength="48.70" lengthAdjust="spacingAndGlyphs">Granta-519 50 nM</text>
<line x1="380.70" y1="444.20" x2="390.80" y2="444.20" stroke="#f08a24" stroke-width="0.8"/>
<circle cx="385.40" cy="444.20" r="1.5" fill="#f08a24"/>
<text x="393.20" y="446.40" font-size="6.2" class="sm" textLength="42.70" lengthAdjust="spacingAndGlyphs">CCMCL1 70 nM</text>
<line x1="380.70" y1="452.90" x2="390.80" y2="452.90" stroke="#3aa84a" stroke-width="0.8"/>
<circle cx="385.40" cy="452.90" r="1.5" fill="#3aa84a"/>
<text x="393.20" y="455.10" font-size="6.2" class="sm" textLength="36.80" lengthAdjust="spacingAndGlyphs">Z-138 150 nM</text>
<line x1="380.70" y1="462.30" x2="390.80" y2="462.30" stroke="#c8203c" stroke-width="0.8"/>
<circle cx="385.40" cy="462.30" r="1.5" fill="#c8203c"/>
<text x="393.20" y="464.50" font-size="6.2" class="sm" textLength="39.30" lengthAdjust="spacingAndGlyphs">Jeko-1 350 nM</text>
<text x="91.50" y="527.60" font-size="8.4" textLength="80.50" lengthAdjust="spacingAndGlyphs">MCL patient samples</text>
<line x1="90.60" y1="566.60" x2="177.00" y2="566.60" stroke="#c8c8c8" stroke-width="0.7"/>
<polyline points="100.00,541.21 115.75,540.94 131.50,541.76 147.25,541.48 163.00,541.48" fill="none" stroke="#2a7a86" stroke-width="1.0" stroke-linejoin="round"/>
<polyline points="100.00,548.58 115.75,548.58 131.50,548.58 147.25,556.77 163.00,563.87" fill="none" stroke="#c8203c" stroke-width="1.0" stroke-linejoin="round"/>
<circle cx="100.00" cy="541.21" r="1.2" fill="#1f4a8e"/>
<circle cx="115.75" cy="540.94" r="1.2" fill="#1f4a8e"/>
<circle cx="131.50" cy="541.76" r="1.2" fill="#1f4a8e"/>
<circle cx="147.25" cy="541.48" r="1.2" fill="#1f4a8e"/>
<circle cx="163.00" cy="541.48" r="1.2" fill="#1f4a8e"/>
<circle cx="100.00" cy="548.58" r="1.2" fill="#c8203c"/>
<circle cx="115.75" cy="548.58" r="1.2" fill="#c8203c"/>
<circle cx="131.50" cy="548.58" r="1.2" fill="#c8203c"/>
<circle cx="147.25" cy="556.77" r="1.2" fill="#c8203c"/>
<circle cx="163.00" cy="563.87" r="1.2" fill="#c8203c"/>
<line x1="89.60" y1="533.60" x2="89.60" y2="594.50" stroke="#333" stroke-width="1.3"/>
<line x1="89.00" y1="593.90" x2="174.00" y2="593.90" stroke="#333" stroke-width="1.3"/>
<line x1="87.20" y1="539.30" x2="89.60" y2="539.30" stroke="#333" stroke-width="0.9"/>
<text x="83.80" y="541.60" font-size="6.6" class="sm" text-anchor="end">100</text>
<line x1="87.20" y1="552.95" x2="89.60" y2="552.95" stroke="#333" stroke-width="0.9"/>
<text x="83.80" y="555.25" font-size="6.6" class="sm" text-anchor="end">75</text>
<line x1="87.20" y1="566.60" x2="89.60" y2="566.60" stroke="#333" stroke-width="0.9"/>
<text x="83.80" y="568.90" font-size="6.6" class="sm" text-anchor="end">50</text>
<line x1="87.20" y1="580.25" x2="89.60" y2="580.25" stroke="#333" stroke-width="0.9"/>
<text x="83.80" y="582.55" font-size="6.6" class="sm" text-anchor="end">25</text>
<line x1="87.20" y1="593.90" x2="89.60" y2="593.90" stroke="#333" stroke-width="0.9"/>
<text x="83.80" y="596.20" font-size="6.6" class="sm" text-anchor="end">0</text>
<line x1="88.10" y1="546.12" x2="89.60" y2="546.12" stroke="#333" stroke-width="0.8"/>
<line x1="88.10" y1="559.77" x2="89.60" y2="559.77" stroke="#333" stroke-width="0.8"/>
<line x1="88.10" y1="573.42" x2="89.60" y2="573.42" stroke="#333" stroke-width="0.8"/>
<line x1="88.10" y1="587.07" x2="89.60" y2="587.07" stroke="#333" stroke-width="0.8"/>
<line x1="100.00" y1="593.90" x2="100.00" y2="595.90" stroke="#333" stroke-width="0.9"/>
<text x="104.00" y="602.70" font-size="7.0" text-anchor="end" textLength="3.70" lengthAdjust="spacingAndGlyphs" transform="rotate(-45 104.00 602.70)">0</text>
<line x1="115.75" y1="593.90" x2="115.75" y2="595.90" stroke="#333" stroke-width="0.9"/>
<text x="119.75" y="602.70" font-size="7.0" text-anchor="end" textLength="7.40" lengthAdjust="spacingAndGlyphs" transform="rotate(-45 119.75 602.70)">10</text>
<line x1="131.50" y1="593.90" x2="131.50" y2="595.90" stroke="#333" stroke-width="0.9"/>
<text x="135.50" y="602.70" font-size="7.0" text-anchor="end" textLength="11.10" lengthAdjust="spacingAndGlyphs" transform="rotate(-45 135.50 602.70)">100</text>
<line x1="147.25" y1="593.90" x2="147.25" y2="595.90" stroke="#333" stroke-width="0.9"/>
<text x="151.25" y="602.70" font-size="7.0" text-anchor="end" textLength="14.80" lengthAdjust="spacingAndGlyphs" transform="rotate(-45 151.25 602.70)">1000</text>
<line x1="163.00" y1="593.90" x2="163.00" y2="595.90" stroke="#333" stroke-width="0.9"/>
<text x="167.00" y="602.70" font-size="7.0" text-anchor="end" textLength="18.50" lengthAdjust="spacingAndGlyphs" transform="rotate(-45 167.00 602.70)">10000</text>
<text x="67.00" y="564.00" font-size="6.8" text-anchor="middle" textLength="56.00" lengthAdjust="spacingAndGlyphs" transform="rotate(-90 67.00 564.00)">% Viability (near ir)</text>
<text x="132.10" y="626.40" font-size="7.6" text-anchor="middle" textLength="50.00" lengthAdjust="spacingAndGlyphs">PRT-382 (nM) D6</text>
<text x="262.50" y="527.60" font-size="8.4" text-anchor="middle" textLength="81.00" lengthAdjust="spacingAndGlyphs">MCL patient samples</text>
<line x1="221.60" y1="566.60" x2="303.50" y2="566.60" stroke="#c8c8c8" stroke-width="0.7"/>
<polyline points="230.30,539.30 245.85,547.49 261.40,563.87 276.95,567.15 292.50,578.07" fill="none" stroke="#3aa84a" stroke-width="1.0" stroke-linejoin="round"/>
<circle cx="230.30" cy="539.30" r="1.2" fill="#3aa84a"/>
<circle cx="245.85" cy="547.49" r="1.2" fill="#3aa84a"/>
<circle cx="261.40" cy="563.87" r="1.2" fill="#3aa84a"/>
<circle cx="276.95" cy="567.15" r="1.2" fill="#3aa84a"/>
<circle cx="292.50" cy="578.07" r="1.2" fill="#3aa84a"/>
<polyline points="230.30,539.30 245.85,544.76 261.40,551.86 276.95,578.61 292.50,586.26" fill="none" stroke="#c8203c" stroke-width="1.0" stroke-linejoin="round"/>
<circle cx="230.30" cy="539.30" r="1.2" fill="#c8203c"/>
<circle cx="245.85" cy="544.76" r="1.2" fill="#c8203c"/>
<circle cx="261.40" cy="551.86" r="1.2" fill="#c8203c"/>
<circle cx="276.95" cy="578.61" r="1.2" fill="#c8203c"/>
<circle cx="292.50" cy="586.26" r="1.2" fill="#c8203c"/>
<polyline points="230.30,539.30 245.85,543.67 261.40,554.59 276.95,551.86 292.50,554.59" fill="none" stroke="#1f4a8e" stroke-width="1.0" stroke-linejoin="round"/>
<circle cx="230.30" cy="539.30" r="1.2" fill="#1f4a8e"/>
<circle cx="245.85" cy="543.67" r="1.2" fill="#1f4a8e"/>
<circle cx="261.40" cy="554.59" r="1.2" fill="#1f4a8e"/>
<circle cx="276.95" cy="551.86" r="1.2" fill="#1f4a8e"/>
<circle cx="292.50" cy="554.59" r="1.2" fill="#1f4a8e"/>
<line x1="220.60" y1="533.60" x2="220.60" y2="594.50" stroke="#333" stroke-width="1.3"/>
<line x1="220.00" y1="593.90" x2="304.80" y2="593.90" stroke="#333" stroke-width="1.3"/>
<line x1="218.20" y1="539.30" x2="220.60" y2="539.30" stroke="#333" stroke-width="0.9"/>
<text x="214.00" y="541.60" font-size="6.6" class="sm" text-anchor="end">100</text>
<line x1="218.20" y1="552.95" x2="220.60" y2="552.95" stroke="#333" stroke-width="0.9"/>
<text x="214.00" y="555.25" font-size="6.6" class="sm" text-anchor="end">75</text>
<line x1="218.20" y1="566.60" x2="220.60" y2="566.60" stroke="#333" stroke-width="0.9"/>
<text x="214.00" y="568.90" font-size="6.6" class="sm" text-anchor="end">50</text>
<line x1="218.20" y1="580.25" x2="220.60" y2="580.25" stroke="#333" stroke-width="0.9"/>
<text x="214.00" y="582.55" font-size="6.6" class="sm" text-anchor="end">25</text>
<line x1="218.20" y1="593.90" x2="220.60" y2="593.90" stroke="#333" stroke-width="0.9"/>
<text x="214.00" y="596.20" font-size="6.6" class="sm" text-anchor="end">0</text>
<line x1="219.10" y1="546.12" x2="220.60" y2="546.12" stroke="#333" stroke-width="0.8"/>
<line x1="219.10" y1="559.77" x2="220.60" y2="559.77" stroke="#333" stroke-width="0.8"/>
<line x1="219.10" y1="573.42" x2="220.60" y2="573.42" stroke="#333" stroke-width="0.8"/>
<line x1="219.10" y1="587.07" x2="220.60" y2="587.07" stroke="#333" stroke-width="0.8"/>
<line x1="230.30" y1="593.90" x2="230.30" y2="595.90" stroke="#333" stroke-width="0.9"/>
<text x="234.30" y="602.70" font-size="7.0" text-anchor="end" textLength="3.70" lengthAdjust="spacingAndGlyphs" transform="rotate(-45 234.30 602.70)">0</text>
<line x1="245.85" y1="593.90" x2="245.85" y2="595.90" stroke="#333" stroke-width="0.9"/>
<text x="249.85" y="602.70" font-size="7.0" text-anchor="end" textLength="7.40" lengthAdjust="spacingAndGlyphs" transform="rotate(-45 249.85 602.70)">10</text>
<line x1="261.40" y1="593.90" x2="261.40" y2="595.90" stroke="#333" stroke-width="0.9"/>
<text x="265.40" y="602.70" font-size="7.0" text-anchor="end" textLength="11.10" lengthAdjust="spacingAndGlyphs" transform="rotate(-45 265.40 602.70)">100</text>
<line x1="276.95" y1="593.90" x2="276.95" y2="595.90" stroke="#333" stroke-width="0.9"/>
<text x="280.95" y="602.70" font-size="7.0" text-anchor="end" textLength="14.80" lengthAdjust="spacingAndGlyphs" transform="rotate(-45 280.95 602.70)">1000</text>
<line x1="292.50" y1="593.90" x2="292.50" y2="595.90" stroke="#333" stroke-width="0.9"/>
<text x="296.50" y="602.70" font-size="7.0" text-anchor="end" textLength="18.50" lengthAdjust="spacingAndGlyphs" transform="rotate(-45 296.50 602.70)">10000</text>
<text x="190.90" y="563.50" font-size="8.2" text-anchor="middle" textLength="28.00" lengthAdjust="spacingAndGlyphs" transform="rotate(-90 190.90 563.50)">% Growth</text>
<text x="199.60" y="563.50" font-size="8.0" text-anchor="middle" textLength="55.60" lengthAdjust="spacingAndGlyphs" transform="rotate(-90 199.60 563.50)">(viable cell count)</text>
<text x="262.90" y="626.40" font-size="7.6" text-anchor="middle" textLength="50.00" lengthAdjust="spacingAndGlyphs">PRT-382 (nM) D6</text>
<line x1="308.60" y1="553.70" x2="315.40" y2="553.70" stroke="#1f4a8e" stroke-width="0.9"/>
<circle cx="312.00" cy="553.70" r="1.2" fill="#1f4a8e"/>
<text x="318.60" y="556.00" font-size="6.6" class="sm" textLength="13.50" lengthAdjust="spacingAndGlyphs">1972</text>
<line x1="308.60" y1="564.40" x2="315.40" y2="564.40" stroke="#c8203c" stroke-width="0.9"/>
<circle cx="312.00" cy="564.40" r="1.2" fill="#c8203c"/>
<text x="318.60" y="566.70" font-size="6.6" class="sm" textLength="8.00" lengthAdjust="spacingAndGlyphs">AA</text>
<line x1="308.60" y1="574.30" x2="315.40" y2="574.30" stroke="#3aa84a" stroke-width="0.9"/>
<circle cx="312.00" cy="574.30" r="1.2" fill="#3aa84a"/>
<text x="318.60" y="576.60" font-size="6.6" class="sm" textLength="8.00" lengthAdjust="spacingAndGlyphs">DA</text>
<text x="367.00" y="528.00" font-size="8.6" textLength="104.80" lengthAdjust="spacingAndGlyphs">Primary MCL patient (1972)</text>
<text x="389.80" y="547.60" font-size="7.0" textLength="3.80" lengthAdjust="spacingAndGlyphs" transform="rotate(-90 389.80 547.60)">0</text>
<text x="408.10" y="547.60" font-size="7.0" textLength="11.40" lengthAdjust="spacingAndGlyphs" transform="rotate(-90 408.10 547.60)">100</text>
<text x="427.90" y="547.60" font-size="7.0" textLength="15.20" lengthAdjust="spacingAndGlyphs" transform="rotate(-90 427.90 547.60)">1000</text>
<text x="437.80" y="540.40" font-size="7.0" textLength="22.00" lengthAdjust="spacingAndGlyphs">PRT-382</text>
<text x="437.80" y="548.00" font-size="7.0" textLength="29.50" lengthAdjust="spacingAndGlyphs">(nM) day 2</text>
<rect x="378.40" y="550.40" width="55.20" height="11.00" fill="#e4e4e4"/>
<rect x="382.10" y="554.85" width="7.40" height="2.70" rx="1.35" fill="#111" fill-opacity="0.28"/>
<rect x="382.30" y="555.30" width="7.00" height="1.80" rx="0.90" fill="#111" fill-opacity="0.95"/>
<rect x="389.05" y="555.05" width="3.90" height="2.30" rx="1.15" fill="#111" fill-opacity="0.21"/>
<rect x="389.25" y="555.50" width="3.50" height="1.40" rx="0.70" fill="#111" fill-opacity="0.70"/>
<rect x="401.10" y="555.00" width="11.40" height="2.40" rx="1.20" fill="#111" fill-opacity="0.15"/>
<rect x="401.30" y="555.45" width="11.00" height="1.50" rx="0.75" fill="#111" fill-opacity="0.50"/>
<rect x="420.30" y="555.00" width="11.40" height="2.40" rx="1.20" fill="#111" fill-opacity="0.12"/>
<rect x="420.50" y="555.45" width="11.00" height="1.50" rx="0.75" fill="#111" fill-opacity="0.40"/>
<text x="374.40" y="553.80" font-size="7.0" text-anchor="end" textLength="7.00" lengthAdjust="spacingAndGlyphs">75</text>
<text x="438.80" y="567.40" font-size="7.0" textLength="18.50" lengthAdjust="spacingAndGlyphs">SDMA</text>
<text x="390.00" y="571.60" font-size="7.4" textLength="8.40" lengthAdjust="spacingAndGlyphs" transform="rotate(-90 390.00 571.60)">1.0</text>
<text x="409.20" y="571.60" font-size="7.4" textLength="8.40" lengthAdjust="spacingAndGlyphs" transform="rotate(-90 409.20 571.60)">0.5</text>
<text x="428.40" y="571.60" font-size="7.4" textLength="8.40" lengthAdjust="spacingAndGlyphs" transform="rotate(-90 428.40 571.60)">0.5</text>
<rect x="377.40" y="573.40" width="56.00" height="55.40" fill="#e2e2e2"/>
<rect x="382.10" y="579.25" width="7.40" height="2.70" rx="1.35" fill="#111" fill-opacity="0.28"/>
<rect x="382.30" y="579.70" width="7.00" height="1.80" rx="0.90" fill="#111" fill-opacity="0.95"/>
<rect x="389.05" y="579.45" width="3.90" height="2.30" rx="1.15" fill="#111" fill-opacity="0.21"/>
<rect x="389.25" y="579.90" width="3.50" height="1.40" rx="0.70" fill="#111" fill-opacity="0.70"/>
<rect x="401.10" y="579.40" width="11.40" height="2.40" rx="1.20" fill="#111" fill-opacity="0.15"/>
<rect x="401.30" y="579.85" width="11.00" height="1.50" rx="0.75" fill="#111" fill-opacity="0.50"/>
<rect x="420.30" y="579.40" width="11.40" height="2.40" rx="1.20" fill="#111" fill-opacity="0.12"/>
<rect x="420.50" y="579.85" width="11.00" height="1.50" rx="0.75" fill="#111" fill-opacity="0.40"/>
<rect x="383.10" y="589.50" width="11.40" height="2.20" rx="1.10" fill="#111" fill-opacity="0.18"/>
<rect x="383.30" y="589.95" width="11.00" height="1.30" rx="0.65" fill="#111" fill-opacity="0.60"/>
<rect x="383.10" y="597.30" width="11.40" height="2.40" rx="1.20" fill="#111" fill-opacity="0.21"/>
<rect x="383.30" y="597.75" width="11.00" height="1.50" rx="0.75" fill="#111" fill-opacity="0.69"/>
<rect x="399.30" y="589.50" width="11.40" height="2.20" rx="1.10" fill="#111" fill-opacity="0.12"/>
<rect x="399.50" y="589.95" width="11.00" height="1.30" rx="0.65" fill="#111" fill-opacity="0.40"/>
<rect x="399.30" y="597.30" width="11.40" height="2.40" rx="1.20" fill="#111" fill-opacity="0.14"/>
<rect x="399.50" y="597.75" width="11.00" height="1.50" rx="0.75" fill="#111" fill-opacity="0.46"/>
<rect x="420.30" y="589.50" width="11.40" height="2.20" rx="1.10" fill="#111" fill-opacity="0.03"/>
<rect x="420.50" y="589.95" width="11.00" height="1.30" rx="0.65" fill="#111" fill-opacity="0.10"/>
<rect x="420.30" y="597.30" width="11.40" height="2.40" rx="1.20" fill="#111" fill-opacity="0.03"/>
<rect x="420.50" y="597.75" width="11.00" height="1.50" rx="0.75" fill="#111" fill-opacity="0.11"/>
<rect x="378.90" y="603.9" width="16.60" height="8.0" rx="2.2" fill="#050505" filter="url(#bl)"/>
<rect x="397.00" y="603.9" width="16.00" height="8.0" rx="2.2" fill="#050505" filter="url(#bl)"/>
<rect x="414.50" y="603.9" width="17.50" height="8.0" rx="2.2" fill="#050505" filter="url(#bl)"/>
<rect x="381.80" y="615.25" width="8.40" height="1.90" rx="0.95" fill="#111" fill-opacity="0.10"/>
<rect x="382.00" y="615.70" width="8.00" height="1.00" rx="0.50" fill="#111" fill-opacity="0.35"/>
<rect x="399.80" y="615.25" width="8.40" height="1.90" rx="0.95" fill="#111" fill-opacity="0.04"/>
<rect x="400.00" y="615.70" width="8.00" height="1.00" rx="0.50" fill="#111" fill-opacity="0.15"/>
<path d="M378.6,621.2 Q405.5,620.0 432.6,621.6 L432.6,624.6 Q405.5,622.8 378.6,624.0 Z" fill="#080808" filter="url(#bl)"/>
<rect x="364.4" y="573.0" width="70.2" height="12.6" fill="none" stroke="#c8304c" stroke-width="1.0"/>
<polyline points="364.4,579.6 358.7,579.6 358.7,556.7 373.5,556.7" fill="none" stroke="#c8304c" stroke-width="1.0"/>
<path d="M377.6,556.7 L372.6,554.4 L372.6,559.0 Z" fill="#c8304c"/>
<text x="374.40" y="579.80" font-size="7.0" text-anchor="end" textLength="7.00" lengthAdjust="spacingAndGlyphs">75</text>
<text x="375.60" y="610.40" font-size="7.0" text-anchor="end" textLength="7.40" lengthAdjust="spacingAndGlyphs">25</text>
<text x="438.80" y="612.20" font-size="7.0" textLength="18.50" lengthAdjust="spacingAndGlyphs">SDMA</text>
<text x="389.00" y="640.60" font-size="7.4" textLength="8.40" lengthAdjust="spacingAndGlyphs" transform="rotate(-90 389.00 640.60)">1.0</text>
<text x="408.40" y="640.60" font-size="7.4" textLength="8.40" lengthAdjust="spacingAndGlyphs" transform="rotate(-90 408.40 640.60)">0.9</text>
<text x="427.40" y="640.60" font-size="7.4" textLength="8.40" lengthAdjust="spacingAndGlyphs" transform="rotate(-90 427.40 640.60)">0.7</text>
<rect x="378.40" y="641.60" width="55.00" height="12.80" fill="#e2e2e2"/>
<rect x="380.40" y="646.85" width="14.40" height="2.70" rx="1.35" fill="#111" fill-opacity="0.24"/>
<rect x="380.60" y="647.30" width="14.00" height="1.80" rx="0.90" fill="#111" fill-opacity="0.80"/>
<rect x="399.60" y="646.85" width="14.40" height="2.70" rx="1.35" fill="#111" fill-opacity="0.24"/>
<rect x="399.80" y="647.30" width="14.00" height="1.80" rx="0.90" fill="#111" fill-opacity="0.80"/>
<rect x="418.80" y="646.85" width="14.40" height="2.70" rx="1.35" fill="#111" fill-opacity="0.24"/>
<rect x="419.00" y="647.30" width="14.00" height="1.80" rx="0.90" fill="#111" fill-opacity="0.80"/>
<text x="438.80" y="659.60" font-size="7.0" textLength="20.50" lengthAdjust="spacingAndGlyphs">β-actin</text>
<rect x="0.5" y="0.5" width="519" height="666" fill="none" stroke="#555" stroke-width="1"/>
</svg></body></html>
